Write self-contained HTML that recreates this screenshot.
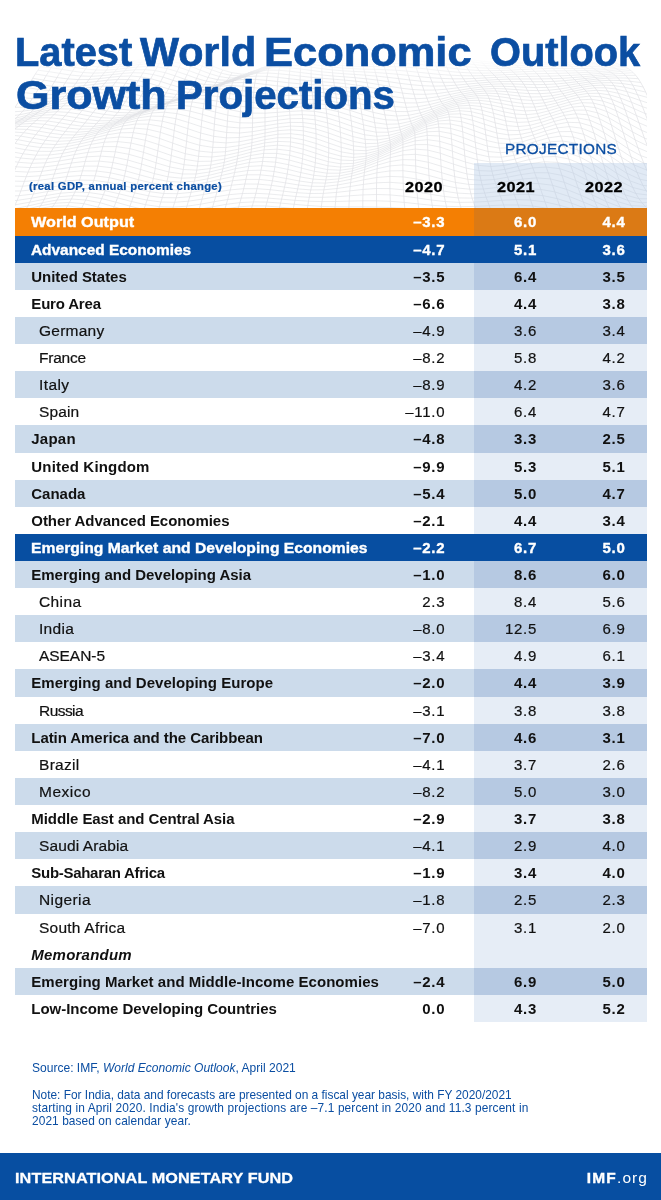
<!DOCTYPE html>
<html lang="en"><head><meta charset="utf-8"><title>Latest World Economic Outlook Growth Projections</title>
<style>
html,body{margin:0;padding:0;background:#fff;}
body{width:661px;height:1200px;position:relative;overflow:hidden;font-family:"Liberation Sans",Arial,sans-serif;}
#mesh{position:absolute;left:15px;top:58px;width:632px;height:151px;}
#proj{position:absolute;left:474.4px;top:163.4px;width:172.6px;height:60px;background:rgba(180,203,230,.4);}
h1{position:absolute;left:0;top:0;margin:0;font-size:40px;line-height:43px;font-weight:bold;color:#0b4ea2;-webkit-text-stroke:.7px #0b4ea2;white-space:nowrap;}
h1 span{position:absolute;display:block;transform-origin:0 0;}
.hd{position:absolute;white-space:nowrap;}
#sub{left:29px;top:180px;font-size:11.3px;font-weight:bold;color:#0b4ea2;letter-spacing:.3px;-webkit-text-stroke:.2px #0b4ea2;}
#pj{left:505px;top:140px;font-size:15.3px;color:#0b4ea2;letter-spacing:.3px;-webkit-text-stroke:.3px #0b4ea2;}
.yr{font-size:15px;font-weight:bold;color:#000;top:178px;letter-spacing:.45px;transform:scaleX(1.085);transform-origin:0 0;-webkit-text-stroke:.3px #000;}
.row{position:absolute;left:15px;width:632px;height:27.7px;line-height:27.1px;font-size:15px;color:#111;white-space:nowrap;}
.row .l{position:absolute;left:16.3px;top:0;}
.row.r .l{left:24px;font-size:15.5px;letter-spacing:.3px;}
.row.r{-webkit-text-stroke:.2px #111;}
.row .n{position:absolute;top:0;text-align:right;width:60px;letter-spacing:.7px;}
.n0{left:370.2px}.n1{left:462px}.n2{left:550.5px}
.row.o,.row.b,.row.B{font-weight:bold;}
.row.o,.row.b{-webkit-text-stroke:.35px #fff;}
.row.i{font-weight:bold;font-style:italic;}
.row.o{background:linear-gradient(90deg,#f47f03 0,#f47f03 459.4px,#db7a15 459.4px);color:#fff;}
.row.b{background:#074ea1;color:#fff;}
.row.s{background:linear-gradient(90deg,#ccdbeb 0,#ccdbeb 459.4px,#b6c9e2 459.4px);}
.row.w{background:linear-gradient(90deg,#fff 0,#fff 459.4px,#e6edf6 459.4px);}
#src{position:absolute;left:32px;top:1062.1px;font-size:12.05px;line-height:13.25px;color:#0b4ea2;white-space:nowrap;}
#note{position:absolute;left:32px;top:1088.8px;font-size:11.9px;line-height:13.25px;color:#0b4ea2;white-space:nowrap;}
#foot{position:absolute;left:0;top:1152.6px;width:661px;height:48px;background:#074ea1;color:#fff;}
#foot .a{position:absolute;left:14.5px;top:0;line-height:50px;font-size:15.5px;font-weight:bold;white-space:nowrap;letter-spacing:.1px;transform:scaleX(1.045);transform-origin:0 0;-webkit-text-stroke:.3px #fff;}
#foot .b{position:absolute;right:13.2px;top:0;line-height:50px;font-size:15.5px;white-space:nowrap;letter-spacing:1px;}
#foot .b b{letter-spacing:1.25px;-webkit-text-stroke:.35px #fff;}
</style></head><body>
<svg id="mesh" width="632" height="151" viewBox="0 0 632 151">
<defs><linearGradient id="fg" x1="0" y1="0" x2="0" y2="1"><stop offset="0" stop-color="#fff" stop-opacity="1"/><stop offset=".14" stop-color="#fff" stop-opacity="0"/></linearGradient></defs>
<path d="M37.8,-0.9 48.1,-2.2 58.4,-2.4 68.6,-1.7 78.9,-0.3 89.2,1.2 99.4,2.4 109.6,2.8 119.8,2.4 129.9,1.3 139.9,-0.1 149.8,-1.2 159.7,-1.5 169.5,-0.6 179.1,1.5 188.8,4.7 198.3,8.4 207.7,12.0 217.1,14.7 226.4,16.1 235.7,15.8 244.9,13.9 254.0,10.6 263.2,6.7 272.3,2.7 281.4,-0.8 290.6,-3.1 299.8,-4.2 309.0,-4.2 318.2,-3.3 327.5,-2.0 336.9,-0.7 346.3,0.0 355.8,0.1 365.4,-0.5 375.1,-1.6 384.9,-2.9 394.8,-4.0 404.7,-4.6 414.7,-4.5 424.8,-3.7 434.9,-2.3 445.1,-0.5 455.3,1.3 465.6,3.0 475.9,4.1 486.2,4.7 496.5,4.7 506.8,4.2 517.0,3.6 527.2,3.1 537.4,2.8 547.5,2.8 557.5,3.2 567.4,3.8 577.3,4.3 587.1,4.5 596.8,4.2 M35.3,-0.2 45.7,-1.1 56.1,-0.9 66.5,0.2 76.9,1.8 87.2,3.3 97.5,4.3 107.8,4.4 118.0,3.7 128.1,2.5 138.1,1.2 148.1,0.4 158.0,0.6 167.8,2.0 177.5,4.6 187.1,8.1 196.6,11.8 206.1,15.1 215.5,17.3 224.9,17.9 234.2,16.8 243.5,14.0 252.7,10.2 262.0,6.0 271.2,2.0 280.5,-1.2 289.7,-3.1 299.1,-3.8 308.4,-3.4 317.8,-2.2 327.3,-0.8 336.9,0.3 346.5,1.0 356.2,0.9 366.0,0.3 375.9,-0.8 385.9,-1.8 395.9,-2.6 406.0,-2.8 416.2,-2.3 426.5,-1.2 436.8,0.4 447.1,2.2 457.5,3.8 467.9,5.2 478.3,6.0 488.7,6.2 499.1,6.0 509.4,5.4 519.7,4.8 530.0,4.3 540.2,4.1 550.3,4.3 560.4,4.7 570.3,5.2 580.2,5.5 590.0,5.4 599.8,4.8 M32.9,1.2 43.4,0.8 53.9,1.5 64.3,2.9 74.8,4.5 85.2,5.9 95.6,6.6 105.8,6.5 116.1,5.6 126.2,4.3 136.3,3.2 146.3,2.8 156.2,3.4 166.0,5.4 175.7,8.4 185.3,12.1 194.9,15.7 204.4,18.5 213.9,20.0 223.3,19.7 232.7,17.7 242.1,14.3 251.4,10.0 260.8,5.7 270.1,1.8 279.5,-1.0 288.9,-2.4 298.4,-2.6 307.9,-1.9 317.5,-0.5 327.2,0.9 336.9,1.9 346.8,2.4 356.7,2.3 366.7,1.6 376.8,0.8 386.9,0.1 397.2,-0.3 407.5,-0.1 417.8,0.8 428.2,2.1 438.7,3.7 449.2,5.3 459.7,6.7 470.2,7.7 480.7,8.1 491.2,8.1 501.6,7.7 512.1,7.1 522.4,6.5 532.7,6.1 542.9,6.0 553.1,6.2 563.2,6.5 573.2,6.9 583.1,7.0 592.9,6.6 602.6,5.7 M30.4,3.2 41.0,3.3 51.6,4.4 62.2,6.0 72.7,7.6 83.1,8.8 93.5,9.2 103.8,8.8 114.1,7.7 124.3,6.5 134.3,5.6 144.3,5.6 154.2,6.8 164.1,9.3 173.8,12.6 183.5,16.2 193.1,19.5 202.7,21.7 212.2,22.3 221.7,21.2 231.2,18.4 240.6,14.4 250.1,9.9 259.6,5.5 269.1,2.0 278.6,-0.3 288.2,-1.2 297.8,-1.0 307.5,0.1 317.3,1.5 327.2,2.9 337.1,3.8 347.1,4.2 357.2,4.0 367.4,3.5 377.7,2.9 388.1,2.6 398.5,2.6 409.0,3.2 419.5,4.3 430.0,5.7 440.6,7.2 451.3,8.6 461.9,9.6 472.5,10.2 483.1,10.3 493.6,10.0 504.2,9.5 514.6,8.9 525.0,8.5 535.4,8.2 545.6,8.1 555.8,8.3 565.9,8.5 575.9,8.7 585.8,8.5 595.7,7.9 605.4,6.8 M27.9,5.7 38.6,6.3 49.3,7.7 59.9,9.4 70.5,11.0 81.0,11.9 91.4,12.0 101.7,11.3 112.0,10.1 122.2,9.0 132.3,8.4 142.3,8.9 152.2,10.6 162.1,13.5 171.9,16.9 181.6,20.4 191.3,23.2 200.9,24.6 210.5,24.3 220.1,22.3 229.6,18.7 239.2,14.3 248.8,9.7 258.4,5.6 268.0,2.6 277.7,0.8 287.5,0.4 297.3,1.0 307.2,2.3 317.2,3.8 327.2,5.1 337.4,5.9 347.6,6.2 357.9,6.1 368.3,5.8 378.7,5.5 389.3,5.6 399.9,6.1 410.5,7.0 421.2,8.2 431.9,9.6 442.6,10.8 453.3,11.8 464.1,12.5 474.7,12.7 485.4,12.5 496.0,12.1 506.6,11.5 517.1,11.0 527.5,10.6 537.9,10.4 548.2,10.4 558.4,10.5 568.5,10.5 578.5,10.4 588.5,10.0 598.3,9.2 608.1,7.9 M25.4,8.7 36.2,9.7 46.9,11.4 57.6,13.1 68.2,14.5 78.7,15.1 89.2,14.8 99.5,13.9 109.8,12.7 120.0,11.7 130.2,11.6 140.2,12.6 150.2,14.7 160.0,17.8 169.9,21.3 179.7,24.4 189.4,26.5 199.1,27.1 208.8,25.8 218.4,23.0 228.1,18.9 237.8,14.2 247.5,9.7 257.3,6.0 267.1,3.5 276.9,2.4 286.9,2.5 296.9,3.5 307.0,4.9 317.1,6.3 327.4,7.5 337.7,8.2 348.1,8.5 358.6,8.5 369.2,8.5 379.9,8.7 390.6,9.1 401.3,9.9 412.1,11.0 422.9,12.3 433.7,13.4 444.6,14.3 455.4,14.9 466.2,15.1 477.0,15.0 487.7,14.6 498.4,14.1 509.0,13.7 519.5,13.3 530.0,13.0 540.4,12.8 550.7,12.8 560.9,12.7 571.0,12.5 581.1,12.1 591.0,11.4 600.9,10.5 610.8,9.2 M22.9,12.2 33.7,13.6 44.5,15.3 55.2,17.0 65.8,18.0 76.4,18.3 86.9,17.7 97.3,16.6 107.6,15.4 117.8,14.7 127.9,15.0 138.0,16.5 148.0,19.1 157.9,22.3 167.8,25.6 177.6,28.1 187.4,29.4 197.2,29.0 207.0,26.9 216.8,23.3 226.6,18.9 236.4,14.2 246.3,10.0 256.2,6.8 266.2,5.0 276.2,4.4 286.3,5.0 296.5,6.2 306.8,7.7 317.2,9.0 327.6,10.0 338.2,10.7 348.8,11.1 359.5,11.3 370.2,11.7 381.0,12.2 391.9,13.1 402.8,14.2 413.7,15.3 424.7,16.4 435.6,17.2 446.5,17.7 457.4,17.8 468.3,17.6 479.2,17.2 489.9,16.7 500.6,16.3 511.3,15.9 521.9,15.7 532.3,15.5 542.7,15.3 553.1,15.1 563.3,14.8 573.4,14.3 583.5,13.7 593.5,12.9 603.4,11.9 613.3,10.7 M20.3,16.0 31.2,17.7 42.0,19.5 52.8,20.9 63.4,21.6 74.0,21.5 84.5,20.6 94.9,19.3 105.2,18.3 115.4,18.0 125.6,18.8 135.7,20.7 145.7,23.5 155.7,26.7 165.7,29.6 175.6,31.5 185.5,31.9 195.4,30.5 205.3,27.6 215.2,23.5 225.1,18.8 235.1,14.3 245.1,10.6 255.2,8.1 265.4,6.9 275.6,6.9 285.9,7.8 296.3,9.2 306.8,10.6 317.3,11.9 328.0,12.8 338.7,13.4 349.5,13.9 360.4,14.5 371.3,15.3 382.3,16.2 393.3,17.4 404.3,18.6 415.4,19.7 426.4,20.4 437.5,20.8 448.5,20.8 459.5,20.5 470.4,19.9 481.3,19.4 492.1,18.9 502.8,18.6 513.5,18.4 524.1,18.2 534.6,18.1 545.0,17.8 555.3,17.4 565.6,16.8 575.8,16.1 585.9,15.3 595.9,14.3 605.9,13.4 615.9,12.5 M17.7,20.3 28.6,22.1 39.4,23.8 50.2,24.9 60.9,25.2 71.5,24.6 82.0,23.5 92.4,22.2 102.7,21.4 113.0,21.5 123.2,22.7 133.4,25.0 143.5,27.9 153.5,30.9 163.5,33.3 173.5,34.4 183.5,33.8 193.5,31.6 203.5,27.9 213.6,23.4 223.7,18.8 233.8,14.7 244.0,11.6 254.3,9.9 264.6,9.3 275.1,9.9 285.6,11.0 296.2,12.4 306.8,13.8 317.6,14.8 328.4,15.7 339.3,16.4 350.3,17.2 361.4,18.1 372.4,19.3 383.6,20.6 394.7,22.0 405.9,23.2 417.0,24.0 428.2,24.3 439.3,24.2 450.4,23.6 461.4,22.9 472.4,22.1 483.3,21.5 494.2,21.1 504.9,21.0 515.6,21.0 526.2,20.9 536.7,20.7 547.2,20.3 557.5,19.6 567.8,18.8 578.0,17.8 588.2,16.8 598.3,15.9 608.3,15.3 618.3,14.7 M15.0,24.9 25.9,26.7 36.8,28.2 47.6,28.9 58.2,28.7 68.9,27.7 79.4,26.4 89.8,25.2 100.2,24.7 110.5,25.2 120.8,26.8 131.0,29.4 141.1,32.3 151.2,34.9 161.3,36.5 171.4,36.7 181.5,35.2 191.7,32.2 201.8,28.0 212.0,23.4 222.3,19.1 232.6,15.5 243.0,13.2 253.4,12.2 264.0,12.3 274.6,13.2 285.3,14.5 296.1,15.8 307.0,17.0 317.9,18.0 329.0,18.8 340.1,19.7 351.2,20.8 362.4,22.1 373.6,23.7 384.9,25.3 396.1,26.7 407.4,27.7 418.6,28.1 429.9,27.9 441.1,27.2 452.2,26.1 463.3,25.1 474.3,24.2 485.3,23.6 496.1,23.5 506.9,23.5 517.6,23.7 528.3,23.7 538.8,23.4 549.3,22.7 559.6,21.7 570.0,20.6 580.2,19.4 590.4,18.4 600.6,17.8 610.7,17.4 620.8,17.4 M12.2,29.6 23.1,31.4 34.0,32.5 44.8,32.7 55.5,32.0 66.2,30.7 76.7,29.3 87.2,28.3 97.6,28.1 107.9,29.1 118.2,31.1 128.5,33.7 138.7,36.4 148.9,38.5 159.2,39.3 169.4,38.6 179.6,36.2 189.9,32.5 200.2,28.0 210.6,23.5 221.0,19.7 231.5,16.9 242.0,15.3 252.7,15.0 263.4,15.7 274.3,16.8 285.2,18.1 296.2,19.3 307.2,20.3 318.4,21.2 329.6,22.1 340.8,23.2 352.1,24.7 363.5,26.5 374.8,28.4 386.2,30.2 397.6,31.5 408.9,32.1 420.3,32.0 431.5,31.2 442.8,29.8 454.0,28.4 465.1,27.1 476.2,26.2 487.1,25.9 498.0,26.0 508.8,26.3 519.6,26.6 530.2,26.5 540.8,26.0 551.3,25.0 561.7,23.7 572.0,22.3 582.3,21.0 592.6,20.2 602.8,19.9 613.0,20.1 623.3,20.7 M9.3,34.6 20.3,36.0 31.2,36.7 42.0,36.4 52.7,35.2 63.4,33.7 73.9,32.2 84.5,31.4 94.9,31.7 105.3,33.1 115.7,35.3 126.0,37.9 136.3,40.3 146.6,41.7 157.0,41.6 167.3,39.9 177.7,36.8 188.1,32.6 198.6,28.1 209.1,24.0 219.7,20.7 230.4,18.8 241.2,18.1 252.1,18.4 263.0,19.4 274.0,20.7 285.1,21.9 296.3,22.9 307.5,23.8 318.9,24.6 330.2,25.6 341.6,27.1 353.1,29.0 364.6,31.2 376.0,33.3 387.5,35.1 399.0,36.2 410.4,36.3 421.8,35.6 433.2,34.0 444.5,32.2 455.7,30.4 466.8,29.0 477.9,28.3 488.9,28.3 499.8,28.7 510.7,29.2 521.4,29.6 532.1,29.4 542.7,28.6 553.2,27.2 563.6,25.6 574.0,24.0 584.4,22.8 594.8,22.3 605.1,22.5 615.4,23.3 625.7,24.5 M6.3,39.5 17.3,40.6 28.2,40.7 39.0,39.9 49.8,38.3 60.5,36.6 71.1,35.2 81.7,34.7 92.2,35.4 102.6,37.1 113.1,39.5 123.5,42.0 133.9,43.8 144.4,44.4 154.8,43.4 165.3,40.9 175.8,37.1 186.4,32.7 197.1,28.4 207.8,24.8 218.6,22.4 229.5,21.3 240.5,21.4 251.5,22.3 262.6,23.5 273.8,24.8 285.1,25.8 296.5,26.6 307.9,27.3 319.4,28.1 330.9,29.4 342.5,31.3 354.1,33.6 365.7,36.1 377.2,38.4 388.8,40.1 400.4,40.7 411.9,40.2 423.3,38.7 434.7,36.5 446.1,34.2 457.3,32.2 468.5,31.0 479.6,30.5 490.6,30.9 501.5,31.6 512.4,32.4 523.1,32.6 533.8,32.2 544.5,31.1 555.0,29.3 565.5,27.4 576.0,25.7 586.5,24.8 596.9,24.7 607.3,25.5 617.7,27.1 628.2,29.0 M3.2,44.5 14.2,45.1 25.2,44.6 36.0,43.2 46.8,41.2 57.5,39.4 68.2,38.2 78.8,38.1 89.4,39.2 99.9,41.2 110.5,43.6 121.0,45.7 131.5,46.9 142.1,46.6 152.7,44.8 163.4,41.5 174.1,37.3 184.8,32.9 195.7,29.0 206.6,26.2 217.6,24.7 228.6,24.5 239.8,25.2 251.0,26.5 262.4,27.9 273.8,29.0 285.3,29.8 296.8,30.3 308.4,30.9 320.0,31.9 331.7,33.5 343.4,35.8 355.1,38.5 366.8,41.3 378.4,43.6 390.1,44.9 401.7,44.9 413.3,43.6 424.8,41.4 436.2,38.6 447.6,36.0 458.8,34.0 470.0,33.0 481.2,33.0 492.2,33.7 503.1,34.8 514.0,35.6 524.8,35.7 535.5,35.0 546.2,33.4 556.8,31.3 567.4,29.2 577.9,27.6 588.5,27.1 599.0,27.6 609.6,29.2 620.1,31.6 630.7,34.1 M0.0,49.3 11.1,49.3 22.0,48.1 32.9,46.2 43.7,44.0 54.5,42.2 65.2,41.3 75.9,41.6 86.6,43.0 97.2,45.2 107.8,47.5 118.5,49.1 129.2,49.5 139.9,48.4 150.6,45.7 161.5,41.9 172.3,37.5 183.3,33.4 194.3,30.1 205.4,28.2 216.6,27.6 227.9,28.3 239.2,29.6 250.7,31.1 262.2,32.4 273.8,33.2 285.4,33.7 297.1,34.0 308.9,34.6 320.7,35.8 332.5,37.8 344.3,40.6 356.1,43.7 367.8,46.6 379.6,48.6 391.3,49.4 403.0,48.7 414.6,46.6 426.1,43.6 437.6,40.4 449.0,37.6 460.3,35.8 471.5,35.2 482.6,35.6 493.7,36.8 504.7,38.1 515.6,39.0 526.4,38.8 537.2,37.7 547.9,35.6 558.6,33.2 569.2,31.1 579.9,29.8 590.5,29.8 601.2,31.1 611.8,33.6 622.5,36.7 633.3,39.7 M-3.3,53.9 7.8,53.2 18.8,51.5 29.7,49.1 40.6,46.7 51.4,45.1 62.2,44.5 73.0,45.2 83.7,46.9 94.5,49.1 105.2,51.1 116.0,52.2 126.8,51.8 137.7,49.8 148.6,46.4 159.6,42.2 170.7,37.9 181.8,34.2 193.1,31.8 204.4,30.9 215.7,31.3 227.2,32.6 238.8,34.4 250.4,35.9 262.1,37.0 273.9,37.5 285.7,37.6 297.5,37.7 309.4,38.4 321.3,40.0 333.2,42.4 345.1,45.6 357.0,49.0 368.9,51.8 380.7,53.5 392.5,53.6 404.2,52.0 415.8,49.1 427.4,45.5 438.9,42.0 450.3,39.2 461.6,37.7 472.9,37.6 484.0,38.6 495.1,40.2 506.1,41.7 517.0,42.4 527.9,41.9 538.7,40.2 549.5,37.7 560.3,35.1 571.0,33.1 581.8,32.3 592.5,33.0 603.3,35.3 614.1,38.6 625.0,42.4 635.9,45.9 M-6.6,58.2 4.5,56.8 15.5,54.5 26.5,51.8 37.4,49.4 48.3,47.9 59.2,47.7 70.0,48.8 80.9,50.7 91.8,52.9 102.7,54.5 113.6,54.8 124.6,53.6 135.6,50.9 146.7,47.0 157.9,42.6 169.1,38.6 180.5,35.7 191.9,34.2 203.4,34.3 215.0,35.6 226.7,37.5 238.4,39.4 250.2,40.8 262.1,41.5 274.0,41.6 286.0,41.4 298.0,41.5 310.0,42.4 322.0,44.3 334.0,47.3 346.0,50.8 358.0,54.3 369.9,56.9 381.8,58.0 393.6,57.3 405.3,54.9 417.0,51.2 428.6,47.1 440.1,43.4 451.5,40.8 462.9,39.8 474.1,40.4 485.3,42.0 496.4,43.9 507.4,45.4 518.4,45.8 529.4,44.8 540.3,42.6 551.1,39.8 562.0,37.1 572.8,35.4 583.7,35.3 594.6,36.9 605.5,40.1 616.5,44.3 627.5,48.7 638.6,52.4 M-10.1,62.2 1.1,60.1 12.2,57.2 23.2,54.3 34.2,52.0 45.2,50.8 56.1,51.0 67.1,52.4 78.1,54.5 89.1,56.4 100.1,57.5 111.2,57.1 122.4,55.1 133.6,51.7 144.9,47.5 156.2,43.3 167.7,39.8 179.2,37.7 190.8,37.3 202.5,38.4 214.3,40.4 226.2,42.7 238.1,44.6 250.1,45.7 262.1,46.0 274.2,45.6 286.3,45.2 298.4,45.4 310.5,46.5 322.7,48.9 334.8,52.3 346.8,56.2 358.9,59.6 370.9,61.8 382.8,62.2 394.6,60.6 406.4,57.2 418.1,52.9 429.7,48.4 441.2,44.8 452.7,42.6 464.0,42.3 475.3,43.5 486.5,45.6 497.6,47.8 508.7,49.1 519.8,49.1 530.8,47.6 541.8,45.0 552.7,41.9 563.7,39.3 574.7,38.1 585.7,38.8 596.7,41.4 607.8,45.7 618.9,50.6 630.1,55.5 641.4,59.2 M-13.6,65.9 -2.4,63.1 8.7,59.8 19.9,56.7 30.9,54.5 42.0,53.7 53.1,54.4 64.2,56.0 75.3,58.1 86.4,59.7 97.6,60.2 108.9,59.1 120.2,56.4 131.6,52.5 143.1,48.2 154.7,44.3 166.3,41.6 178.1,40.5 189.9,41.2 201.8,43.1 213.7,45.7 225.8,48.2 237.9,49.9 250.0,50.6 262.2,50.3 274.4,49.6 286.6,49.0 298.9,49.3 311.1,50.9 323.3,53.7 335.5,57.5 347.6,61.5 359.7,64.7 371.7,66.3 383.7,65.9 395.6,63.3 407.4,59.1 419.1,54.2 430.7,49.6 442.2,46.3 453.7,44.8 465.1,45.2 476.4,47.1 487.6,49.6 498.8,51.8 510.0,52.9 521.1,52.4 532.2,50.3 543.2,47.3 554.3,44.1 565.4,41.8 576.5,41.3 587.7,43.0 598.9,46.7 610.1,51.9 621.4,57.5 632.8,62.5 644.3,66.1 M-17.2,69.1 -5.9,65.8 5.3,62.1 16.5,59.0 27.7,57.1 38.9,56.7 50.1,57.8 61.3,59.6 72.5,61.6 83.9,62.8 95.2,62.7 106.7,60.8 118.2,57.5 129.8,53.4 141.5,49.2 153.2,45.8 165.1,44.0 177.0,44.0 189.0,45.7 201.1,48.4 213.2,51.3 225.4,53.8 237.7,55.1 250.0,55.2 262.3,54.4 274.6,53.4 287.0,52.8 299.3,53.3 311.6,55.4 323.9,58.7 336.2,62.8 348.4,66.8 360.5,69.6 372.5,70.5 384.5,69.1 396.4,65.6 408.2,60.7 419.9,55.4 431.6,50.9 443.2,48.0 454.6,47.3 466.1,48.5 477.4,51.0 488.7,53.8 499.9,56.0 511.2,56.7 522.4,55.6 533.5,52.9 544.7,49.5 555.9,46.5 567.1,44.7 578.4,45.1 589.7,47.9 601.1,52.7 612.5,58.8 624.0,64.8 635.6,69.8 647.3,72.9 M-20.8,72.1 -9.5,68.2 1.8,64.3 13.1,61.3 24.4,59.8 35.7,59.8 47.1,61.2 58.4,63.2 69.9,65.0 81.3,65.7 92.9,64.9 104.5,62.4 116.2,58.6 128.0,54.4 139.9,50.5 151.8,48.0 163.9,47.2 176.0,48.3 188.2,50.8 200.5,54.1 212.8,57.2 225.1,59.3 237.6,60.2 250.0,59.7 262.4,58.4 274.9,57.1 287.3,56.6 299.8,57.5 312.1,60.0 324.5,63.8 336.8,68.2 349.0,71.9 361.2,74.2 373.2,74.2 385.2,71.8 397.2,67.4 409.0,61.9 420.7,56.5 432.4,52.3 444.0,50.1 455.5,50.2 467.0,52.3 478.4,55.3 489.7,58.3 501.0,60.2 512.3,60.4 523.6,58.6 534.9,55.5 546.2,51.9 557.6,49.1 568.9,48.1 580.3,49.6 591.8,53.5 603.4,59.4 615.0,66.1 626.7,72.4 638.5,77.1 650.3,79.4 M-24.5,74.7 -13.1,70.3 -1.7,66.4 9.7,63.6 21.2,62.5 32.6,63.0 44.1,64.7 55.6,66.7 67.2,68.2 78.9,68.4 90.6,66.9 102.5,63.9 114.4,59.9 126.3,55.7 138.4,52.4 150.6,50.8 162.8,51.0 175.1,53.1 187.5,56.4 199.9,60.1 212.4,63.1 224.9,64.8 237.5,65.0 250.0,63.9 262.6,62.2 275.1,60.7 287.7,60.5 300.1,61.8 312.6,64.9 325.0,69.0 337.3,73.4 349.6,76.8 361.8,78.3 373.9,77.4 385.9,74.0 397.8,68.8 409.7,63.0 421.4,57.7 433.1,54.0 444.7,52.7 456.3,53.7 467.8,56.5 479.3,59.9 490.7,62.9 502.1,64.4 513.5,63.9 524.9,61.6 536.3,58.0 547.8,54.5 559.2,52.2 570.8,52.1 582.4,54.8 594.0,59.9 605.7,66.7 617.5,73.9 629.4,80.1 641.4,84.2 653.5,85.6 M-28.1,76.9 -16.6,72.3 -5.1,68.4 6.4,66.0 18.0,65.4 29.6,66.3 41.2,68.2 52.9,70.1 64.7,71.2 76.5,70.9 88.5,68.8 100.5,65.4 112.6,61.3 124.8,57.5 137.0,54.9 149.4,54.2 161.8,55.6 174.3,58.6 186.8,62.4 199.4,66.2 212.1,68.9 224.7,70.0 237.4,69.5 250.0,67.8 262.7,65.8 275.3,64.4 287.9,64.5 300.5,66.3 313.0,69.8 325.4,74.3 337.8,78.5 350.1,81.4 362.3,82.0 374.4,80.1 386.4,75.8 398.4,70.0 410.2,64.0 422.0,59.1 433.8,56.2 445.4,55.8 457.0,57.7 468.6,61.1 480.1,64.8 491.6,67.6 503.1,68.6 514.7,67.4 526.2,64.4 537.7,60.7 549.3,57.4 561.0,55.8 572.7,56.8 584.4,60.7 596.3,66.9 608.2,74.5 620.2,81.9 632.3,87.7 644.5,91.0 656.7,91.2 M-31.8,79.0 -20.2,74.2 -8.6,70.5 3.1,68.5 14.8,68.3 26.6,69.6 38.4,71.7 50.3,73.5 62.2,74.2 74.3,73.3 86.4,70.7 98.6,67.0 110.9,63.0 123.3,59.8 135.8,58.1 148.3,58.4 160.9,60.7 173.5,64.5 186.2,68.7 199.0,72.3 211.7,74.5 224.5,75.0 237.3,73.7 250.1,71.5 262.8,69.3 275.5,68.1 288.2,68.6 300.8,71.0 313.3,74.9 325.8,79.4 338.2,83.4 350.5,85.6 362.7,85.3 374.8,82.3 386.9,77.2 398.8,71.1 410.7,65.2 422.6,60.8 434.3,58.8 446.0,59.5 457.7,62.3 469.4,66.2 481.0,69.9 492.6,72.3 504.2,72.6 515.8,70.7 527.5,67.3 539.2,63.4 551.0,60.6 562.8,59.9 574.7,62.2 586.6,67.3 598.6,74.5 610.8,82.5 623.0,89.8 635.3,95.0 647.6,97.2 660.1,96.2 M-35.5,80.9 -23.8,76.1 -12.0,72.7 -0.2,71.1 11.7,71.4 23.6,73.1 35.6,75.2 47.7,76.7 59.9,77.0 72.1,75.6 84.4,72.7 96.8,68.9 109.3,65.2 121.9,62.6 134.6,61.8 147.3,63.2 160.0,66.4 172.8,70.7 185.7,75.0 198.6,78.3 211.4,79.9 224.3,79.5 237.2,77.6 250.0,75.0 262.9,72.7 275.6,71.8 288.3,72.8 301.0,75.7 313.5,80.0 326.0,84.5 338.4,87.9 350.8,89.3 363.0,88.1 375.1,84.2 387.2,78.5 399.2,72.2 411.2,66.6 423.0,63.0 434.8,62.1 446.6,63.7 458.4,67.2 470.1,71.5 481.8,75.0 493.5,76.9 505.3,76.4 517.1,73.9 528.9,70.1 540.7,66.5 552.7,64.3 564.7,64.7 576.7,68.2 588.9,74.5 601.1,82.5 613.4,90.8 625.8,97.7 638.3,101.9 650.9,102.8 663.5,100.4 M-39.2,82.7 -27.3,78.0 -15.4,75.0 -3.4,73.9 8.7,74.7 20.8,76.6 33.0,78.7 45.2,80.0 57.6,79.8 70.0,78.0 82.6,74.8 95.2,71.1 107.9,67.9 120.6,66.0 133.4,66.2 146.3,68.5 159.2,72.5 172.2,77.1 185.2,81.3 198.2,84.0 211.1,84.9 224.1,83.8 237.1,81.3 250.0,78.4 262.9,76.2 275.7,75.7 288.4,77.2 301.1,80.6 313.7,85.0 326.2,89.3 338.6,92.2 351.0,92.7 363.2,90.4 375.4,85.8 387.5,79.7 399.5,73.4 411.5,68.5 423.4,65.8 435.3,65.9 447.2,68.5 459.0,72.6 470.8,76.9 482.7,80.2 494.5,81.3 506.4,80.1 518.3,77.0 530.3,73.1 542.3,69.9 554.4,68.6 566.6,70.2 578.9,75.0 591.2,82.2 603.7,90.8 616.2,98.9 628.8,105.1 641.5,108.2 654.2,107.7 667.0,103.9 M-42.8,84.4 -30.8,80.0 -18.7,77.4 -6.5,76.9 5.7,78.1 18.0,80.2 30.4,82.3 42.9,83.3 55.4,82.7 68.1,80.5 80.8,77.2 93.6,73.7 106.4,71.1 119.4,70.1 132.4,71.2 145.4,74.3 158.5,78.7 171.6,83.4 184.7,87.3 197.8,89.4 210.8,89.5 223.9,87.6 236.9,84.7 249.9,81.7 262.8,79.7 275.6,79.7 288.4,81.8 301.1,85.5 313.7,90.0 326.3,93.9 338.7,96.0 351.1,95.6 363.3,92.5 375.5,87.2 387.7,80.9 399.8,75.0 411.8,70.8 423.8,69.2 435.7,70.4 447.7,73.8 459.6,78.3 471.6,82.5 483.5,85.2 495.5,85.6 507.5,83.7 519.6,80.2 531.8,76.4 544.0,73.7 556.3,73.5 568.7,76.3 581.1,82.3 593.7,90.4 606.3,99.1 619.0,106.9 631.8,112.1 644.7,113.8 657.6,111.8 670.6,106.7 M-46.4,86.2 -34.2,82.1 -21.9,80.1 -9.6,80.1 2.8,81.7 15.3,84.0 27.9,85.9 40.6,86.6 53.3,85.6 66.2,83.2 79.1,79.9 92.1,76.8 105.1,74.8 118.2,74.6 131.4,76.6 144.5,80.4 157.7,85.1 170.9,89.7 184.1,93.1 197.3,94.4 210.5,93.7 223.6,91.2 236.7,87.9 249.7,84.9 262.7,83.4 275.5,83.9 288.3,86.4 301.0,90.4 313.7,94.8 326.2,98.2 338.7,99.5 351.1,98.2 363.4,94.3 375.6,88.6 387.8,82.3 399.9,77.0 412.0,73.8 424.1,73.3 436.1,75.5 448.2,79.5 460.2,84.2 472.3,88.1 484.4,90.1 496.6,89.7 508.8,87.2 521.0,83.4 533.4,79.9 545.8,78.1 558.3,79.0 570.8,83.1 583.5,90.1 596.2,98.7 609.1,107.4 622.0,114.4 634.9,118.3 648.0,118.5 661.1,115.0 674.2,108.8 M-49.9,88.1 -37.5,84.4 -25.1,82.9 -12.6,83.5 0.1,85.4 12.8,87.8 25.5,89.5 38.4,89.9 51.4,88.7 64.4,86.1 77.5,83.0 90.6,80.3 103.8,79.0 117.1,79.6 130.4,82.3 143.7,86.6 157.0,91.4 170.3,95.7 183.6,98.4 196.9,99.0 210.1,97.5 223.3,94.5 236.4,91.1 249.5,88.3 262.4,87.2 275.3,88.2 288.2,91.2 300.9,95.3 313.5,99.4 326.1,102.1 338.6,102.6 351.0,100.4 363.3,95.9 375.6,90.1 387.9,84.2 400.1,79.6 412.2,77.4 424.4,78.0 436.5,81.0 448.7,85.5 460.9,90.1 473.1,93.5 485.4,94.7 497.7,93.6 510.1,90.6 522.5,86.9 535.0,83.8 547.6,83.0 560.3,85.1 573.1,90.4 585.9,98.2 598.9,107.0 611.9,115.3 625.0,121.3 638.1,123.8 651.3,122.4 664.6,117.5 677.9,110.2 M-53.4,90.1 -40.8,86.9 -28.2,86.0 -15.4,87.1 -2.6,89.3 10.3,91.7 23.3,93.3 36.3,93.4 49.5,91.9 62.7,89.3 75.9,86.4 89.2,84.2 102.6,83.6 116.0,85.0 129.4,88.3 142.8,92.8 156.3,97.5 169.7,101.4 183.0,103.4 196.4,103.2 209.7,101.1 222.9,97.7 236.0,94.2 249.1,91.8 262.1,91.2 275.0,92.7 287.9,96.0 300.6,100.1 313.3,103.7 325.9,105.8 338.4,105.4 350.9,102.5 363.2,97.6 375.6,91.8 387.9,86.4 400.2,82.8 412.4,81.7 424.7,83.3 437.0,87.0 449.3,91.7 461.6,96.0 473.9,98.8 486.4,99.2 498.9,97.4 511.4,94.1 524.1,90.5 536.8,88.2 549.6,88.4 562.5,91.8 575.4,98.1 588.5,106.4 601.6,115.2 614.8,122.8 628.1,127.5 641.4,128.4 654.7,125.4 668.1,119.3 681.5,111.2 M-56.7,92.3 -44.0,89.7 -31.1,89.4 -18.2,90.9 -5.2,93.4 7.9,95.8 21.1,97.2 34.3,97.0 47.6,95.4 61.0,92.8 74.4,90.2 87.9,88.6 101.4,88.6 114.9,90.6 128.5,94.3 142.0,98.9 155.5,103.4 169.0,106.7 182.4,108.0 195.8,107.1 209.2,104.4 222.4,100.8 235.6,97.5 248.7,95.4 261.7,95.4 274.7,97.3 287.5,100.8 300.3,104.7 313.0,107.8 325.6,109.1 338.1,108.0 350.6,104.6 363.1,99.5 375.5,93.9 387.9,89.3 400.2,86.6 412.6,86.6 425.0,89.1 437.4,93.2 449.8,97.9 462.3,101.8 474.9,103.8 487.5,103.5 500.1,101.1 512.9,97.7 525.7,94.5 538.6,93.1 551.6,94.4 564.7,98.9 577.9,106.0 591.1,114.6 604.4,123.0 617.8,129.5 631.2,132.8 644.7,132.1 658.2,127.7 671.7,120.5 685.2,111.9 M-60.0,94.8 -47.1,92.8 -34.0,93.0 -20.9,94.9 -7.7,97.6 5.6,100.0 19.0,101.2 32.4,100.8 45.9,99.1 59.4,96.6 73.0,94.4 86.6,93.2 100.3,93.8 113.9,96.3 127.5,100.2 141.1,104.8 154.7,108.9 168.3,111.5 181.8,112.1 195.2,110.6 208.6,107.6 221.8,104.0 235.1,100.9 248.2,99.3 261.2,99.7 274.2,102.0 287.0,105.5 299.8,109.1 312.6,111.6 325.2,112.2 337.8,110.5 350.4,106.6 362.9,101.6 375.4,96.5 387.9,92.7 400.3,91.1 412.8,92.1 425.3,95.2 437.9,99.7 450.5,104.1 463.1,107.3 475.8,108.5 488.6,107.5 501.5,104.8 514.4,101.5 527.5,98.9 540.6,98.5 553.8,101.0 567.0,106.4 580.4,114.1 593.8,122.6 607.3,130.3 620.8,135.5 634.4,137.2 648.0,135.0 661.7,129.2 675.3,121.2 688.9,112.4 M-63.2,97.5 -50.0,96.1 -36.8,96.9 -23.5,99.2 -10.1,102.0 3.4,104.3 16.9,105.3 30.5,104.8 44.2,103.0 57.9,100.7 71.6,98.8 85.4,98.1 99.1,99.1 112.8,102.0 126.6,106.0 140.3,110.4 153.9,114.0 167.5,116.0 181.0,116.0 194.5,114.0 207.9,110.8 221.2,107.3 234.4,104.5 247.6,103.4 260.6,104.2 273.6,106.7 286.5,110.1 299.3,113.3 312.1,115.2 324.8,115.2 337.4,112.9 350.1,108.9 362.7,104.1 375.2,99.7 387.8,96.9 400.4,96.3 413.0,98.0 425.7,101.7 438.4,106.1 451.2,110.1 464.0,112.6 476.9,113.1 489.9,111.4 502.9,108.5 516.1,105.5 529.3,103.8 542.6,104.4 556.0,107.9 569.5,114.1 583.0,122.0 596.6,130.2 610.2,136.9 623.9,140.7 637.7,140.8 651.4,137.0 665.1,130.2 678.9,121.7 692.6,113.0 M-66.3,100.5 -52.9,99.6 -39.5,100.9 -26.0,103.6 -12.4,106.5 1.3,108.8 15.0,109.6 28.7,109.0 42.5,107.2 56.4,105.0 70.2,103.4 84.1,103.1 97.9,104.5 111.8,107.5 125.6,111.5 139.3,115.6 153.0,118.8 166.6,120.2 180.2,119.7 193.7,117.4 207.1,114.1 220.4,110.7 233.7,108.4 246.9,107.7 259.9,108.8 272.9,111.4 285.9,114.6 298.7,117.3 311.5,118.6 324.3,118.0 337.0,115.4 349.7,111.5 362.4,107.1 375.1,103.5 387.8,101.6 400.5,101.9 413.3,104.3 426.1,108.2 439.0,112.4 451.9,115.9 465.0,117.6 478.0,117.3 491.2,115.3 504.5,112.4 517.8,109.9 531.2,109.1 544.7,110.7 558.3,115.1 572.0,121.9 585.7,129.7 599.4,137.2 613.2,142.6 627.1,144.9 640.9,143.4 654.8,138.4 668.6,130.8 682.4,122.1 696.2,113.7 M-69.3,103.7 -55.7,103.5 -42.1,105.3 -28.4,108.2 -14.6,111.2 -0.8,113.4 13.1,114.1 27.0,113.3 40.9,111.5 54.9,109.5 68.9,108.1 82.8,108.1 96.7,109.8 110.6,112.9 124.5,116.8 138.3,120.5 152.0,123.2 165.7,124.2 179.3,123.2 192.8,120.8 206.3,117.5 219.6,114.5 232.9,112.5 246.0,112.2 259.1,113.5 272.2,116.0 285.1,118.9 298.1,121.1 310.9,121.9 323.8,120.9 336.6,118.1 349.4,114.4 362.2,110.7 375.0,107.9 387.8,106.9 400.7,108.0 413.6,110.9 426.6,114.7 439.7,118.6 452.8,121.3 466.0,122.3 479.3,121.5 492.7,119.2 506.1,116.6 519.6,114.7 533.3,114.8 547.0,117.4 560.7,122.5 574.5,129.5 588.4,137.0 602.3,143.5 616.3,147.6 630.2,148.3 644.2,145.4 658.1,139.4 672.1,131.3 686.0,122.6 699.8,114.7 M-72.2,107.2 -58.4,107.5 -44.6,109.8 -30.7,113.0 -16.8,116.1 -2.8,118.1 11.2,118.7 25.3,117.8 39.3,116.0 53.4,114.0 67.5,112.8 81.5,113.0 95.5,114.8 109.5,118.0 123.4,121.7 137.2,125.1 151.0,127.4 164.7,128.0 178.3,126.8 191.9,124.3 205.3,121.2 218.7,118.5 231.9,116.8 245.2,116.8 258.3,118.2 271.4,120.5 284.4,123.0 297.3,124.8 310.3,125.1 323.2,123.8 336.1,121.2 349.0,117.9 361.9,114.8 374.9,112.9 387.9,112.7 400.9,114.4 414.0,117.5 427.2,121.1 440.4,124.4 453.7,126.4 467.1,126.8 480.6,125.5 494.2,123.2 507.8,121.0 521.6,119.9 535.4,120.9 549.2,124.3 563.2,129.9 577.2,136.8 591.2,143.6 605.2,149.0 619.3,151.6 633.4,150.9 647.4,146.8 661.5,140.0 675.5,131.7 689.5,123.3 703.4,116.2 M-75.0,111.0 -61.0,111.8 -47.1,114.5 -33.0,117.9 -18.9,121.1 -4.8,123.0 9.4,123.4 23.6,122.4 37.7,120.5 51.9,118.6 66.1,117.5 80.2,117.8 94.2,119.7 108.3,122.8 122.2,126.3 136.1,129.4 149.9,131.4 163.6,131.8 177.2,130.5 190.8,128.0 204.2,125.2 217.6,122.7 230.9,121.4 244.2,121.4 257.4,122.8 270.5,124.9 283.6,127.0 296.6,128.3 309.6,128.4 322.6,127.0 335.7,124.6 348.7,121.8 361.8,119.5 374.9,118.4 388.0,118.9 401.2,120.9 414.5,124.0 427.8,127.3 441.3,129.9 454.8,131.2 468.4,131.0 482.1,129.5 495.8,127.4 509.7,125.8 523.6,125.5 537.6,127.3 551.6,131.4 565.7,137.1 579.8,143.6 594.0,149.6 608.2,153.6 622.4,154.8 636.5,152.8 650.7,147.7 664.8,140.5 678.9,132.3 692.9,124.5 706.8,118.3 M-77.7,114.9 -63.6,116.4 -49.4,119.4 -35.2,123.0 -21.0,126.2 -6.7,128.0 7.6,128.2 21.9,127.0 36.1,124.9 50.4,123.0 64.6,122.0 78.8,122.4 92.9,124.3 107.0,127.3 120.9,130.7 134.8,133.7 148.7,135.5 162.4,135.7 176.0,134.4 189.6,132.1 203.1,129.4 216.5,127.2 229.9,126.0 243.1,126.1 256.4,127.3 269.5,129.1 282.7,130.9 295.8,131.9 308.9,131.8 322.1,130.5 335.2,128.5 348.4,126.4 361.6,124.8 374.9,124.3 388.2,125.3 401.6,127.5 415.0,130.3 428.6,133.1 442.2,135.1 455.9,135.8 469.7,135.1 483.6,133.6 497.5,131.9 511.6,130.9 525.7,131.4 539.8,133.9 554.0,138.4 568.3,144.0 582.5,149.9 596.8,154.8 611.1,157.5 625.4,157.3 639.6,154.2 653.9,148.4 668.0,141.0 682.2,133.3 696.2,126.2 710.2,120.9 M-80.3,119.1 -66.1,121.1 -51.8,124.5 -37.4,128.3 -23.0,131.4 -8.6,133.0 5.8,133.0 20.2,131.5 34.5,129.3 48.8,127.3 63.1,126.3 77.3,126.7 91.5,128.6 105.6,131.6 119.6,134.9 133.5,137.8 147.3,139.6 161.1,139.8 174.8,138.7 188.4,136.5 201.9,134.0 215.3,131.9 228.7,130.7 242.0,130.7 255.3,131.7 268.6,133.2 281.8,134.7 295.0,135.5 308.3,135.4 321.5,134.4 334.8,132.9 348.1,131.4 361.5,130.5 374.9,130.6 388.4,131.8 402.0,133.9 415.7,136.3 429.4,138.5 443.2,139.9 457.1,140.1 471.1,139.2 485.2,137.8 499.4,136.6 513.6,136.3 527.8,137.6 542.1,140.6 556.5,145.2 570.9,150.5 585.3,155.5 599.7,159.2 614.0,160.6 628.4,159.2 642.7,155.2 657.0,149.1 671.2,141.9 685.4,134.7 699.5,128.6 713.5,124.1 M-82.9,123.5 -68.5,125.9 -54.0,129.7 -39.5,133.6 -25.0,136.7 -10.5,138.1 4.0,137.7 18.4,136.0 32.8,133.5 47.2,131.4 61.5,130.3 75.8,130.7 90.0,132.7 104.1,135.8 118.1,139.2 132.1,142.1 145.9,144.0 159.7,144.3 173.4,143.2 187.0,141.2 200.6,138.8 214.0,136.7 227.5,135.5 240.9,135.3 254.2,136.0 267.6,137.2 280.9,138.5 294.3,139.3 307.6,139.3 321.0,138.8 334.5,137.8 347.9,136.9 361.5,136.5 375.1,136.9 388.8,138.2 402.6,140.0 416.4,142.0 430.3,143.6 444.4,144.4 458.5,144.2 472.7,143.4 486.9,142.3 501.2,141.6 515.6,142.1 530.0,143.9 544.5,147.2 559.0,151.6 573.5,156.3 588.0,160.4 602.5,162.8 616.9,163.0 631.4,160.7 645.8,156.1 660.1,150.0 674.4,143.2 688.6,136.8 702.7,131.6 716.7,128.0 M-85.5,128.0 -70.9,131.0 -56.3,135.1 -41.7,139.1 -27.1,142.0 -12.5,143.1 2.1,142.4 16.6,140.2 31.1,137.5 45.5,135.2 59.9,134.1 74.2,134.6 88.4,136.7 102.5,139.9 116.6,143.5 130.5,146.7 144.4,148.7 158.2,149.1 171.9,148.2 185.6,146.2 199.2,143.7 212.7,141.5 226.2,140.1 239.7,139.7 253.1,140.1 266.6,141.2 280.0,142.3 293.5,143.2 307.0,143.6 320.6,143.5 334.2,143.1 347.8,142.8 361.5,142.8 375.3,143.3 389.2,144.4 403.2,145.9 417.2,147.3 431.4,148.3 445.6,148.7 459.9,148.4 474.3,147.7 488.7,147.0 503.2,147.0 517.7,148.0 532.3,150.3 546.9,153.6 561.5,157.7 576.1,161.6 590.7,164.5 605.3,165.8 619.8,165.0 634.3,162.0 648.7,157.2 663.1,151.3 677.4,145.1 691.6,139.6 705.8,135.2 719.8,132.3 M-87.9,132.7 -73.2,136.2 -58.5,140.5 -43.8,144.6 -29.1,147.2 -14.4,148.0 0.2,146.8 14.8,144.2 29.3,141.2 43.8,138.7 58.2,137.6 72.5,138.3 86.7,140.6 100.9,144.2 114.9,148.1 128.9,151.6 142.8,153.8 156.6,154.4 170.4,153.4 184.1,151.4 197.7,148.8 211.3,146.3 224.9,144.6 238.5,143.9 252.0,144.1 265.6,145.1 279.2,146.3 292.8,147.5 306.4,148.4 320.1,148.8 333.9,148.9 347.8,148.9 361.7,149.1 375.7,149.6 389.8,150.4 403.9,151.3 418.2,152.2 432.5,152.7 446.9,152.8 461.4,152.6 475.9,152.2 490.5,152.1 505.2,152.6 519.9,154.1 534.6,156.5 549.3,159.7 564.0,163.1 578.7,166.1 593.4,168.0 608.0,168.2 622.6,166.6 637.2,163.2 651.6,158.5 666.0,153.1 680.4,147.7 694.6,143.0 708.8,139.4 722.8,137.0 M-90.4,137.6 -75.6,141.5 -60.8,146.1 -46.0,150.1 -31.2,152.4 -16.4,152.7 -1.7,151.0 12.9,148.0 27.5,144.7 42.0,142.0 56.4,141.0 70.7,142.0 85.0,144.7 99.1,148.8 113.2,153.1 127.2,156.9 141.1,159.3 155.0,160.0 168.8,159.0 182.5,156.7 196.2,153.8 209.9,151.0 223.6,148.9 237.3,147.9 250.9,148.0 264.6,149.1 278.3,150.6 292.1,152.2 305.9,153.5 319.8,154.4 333.8,155.0 347.8,155.2 361.9,155.4 376.1,155.6 390.4,155.9 404.7,156.3 419.2,156.7 433.7,156.9 448.3,157.0 463.0,156.9 477.7,157.0 492.4,157.4 507.2,158.5 522.0,160.2 536.9,162.6 551.7,165.3 566.5,168.0 581.3,170.0 596.0,170.8 610.7,170.2 625.4,168.1 639.9,164.6 654.5,160.3 668.9,155.5 683.2,150.9 697.5,147.0 711.7,144.1 725.7,142.1 M-92.9,142.6 -77.9,147.0 -63.0,151.7 -48.1,155.5 -33.3,157.5 -18.5,157.2 -3.8,155.0 10.9,151.4 25.5,147.8 40.0,145.2 54.5,144.4 68.8,145.7 83.1,149.1 97.3,153.7 111.4,158.6 125.4,162.8 139.4,165.4 153.3,166.0 167.1,164.7 180.9,162.0 194.7,158.6 208.5,155.4 222.3,153.0 236.1,151.8 249.9,152.0 263.7,153.2 277.6,155.1 291.5,157.2 305.5,159.1 319.6,160.4 333.7,161.2 347.9,161.5 362.2,161.4 376.6,161.3 391.1,161.1 405.7,161.0 420.3,161.0 435.0,161.0 449.8,161.2 464.6,161.5 479.5,162.1 494.4,163.0 509.3,164.4 524.2,166.2 539.2,168.3 554.1,170.4 569.0,172.2 583.8,173.2 598.6,173.2 613.4,172.1 628.0,169.7 642.7,166.5 657.2,162.6 671.6,158.6 686.0,154.9 700.3,151.7 714.5,149.1 728.6,147.4 M-95.3,147.8 -80.3,152.5 -65.3,157.3 -50.4,160.9 -35.5,162.4 -20.6,161.5 -5.8,158.6 8.9,154.6 23.5,150.7 38.0,148.2 52.5,147.8 66.8,149.8 81.1,153.8 95.3,159.2 109.5,164.6 123.5,169.1 137.5,171.8 151.5,172.2 165.4,170.5 179.3,167.2 193.2,163.3 207.1,159.6 221.0,156.8 234.9,155.6 248.8,155.9 262.8,157.5 276.9,160.0 291.0,162.6 305.1,165.0 319.4,166.6 333.7,167.5 348.2,167.6 362.7,167.2 377.2,166.5 391.9,165.8 406.7,165.3 421.5,165.0 436.4,165.2 451.3,165.6 466.3,166.4 481.3,167.4 496.3,168.8 511.4,170.3 526.4,172.0 541.4,173.6 556.4,175.0 571.4,175.9 586.3,176.0 601.1,175.4 615.9,173.9 630.6,171.6 645.3,168.8 659.8,165.7 674.3,162.5 688.7,159.4 702.9,156.7 717.2,154.4 731.3,152.7 M-97.8,153.1 -82.7,158.2 -67.6,163.0 -52.6,166.2 -37.7,167.1 -22.8,165.5 -8.0,161.9 6.7,157.5 21.3,153.5 35.9,151.2 50.4,151.4 64.8,154.2 79.1,159.1 93.3,165.2 107.5,171.3 121.6,176.0 135.6,178.5 149.7,178.5 163.7,176.2 177.7,172.2 191.7,167.6 205.7,163.4 219.7,160.5 233.7,159.3 247.8,160.0 262.0,162.2 276.2,165.2 290.5,168.4 304.9,171.2 319.3,173.0 333.9,173.7 348.5,173.5 363.2,172.6 378.0,171.3 392.8,170.1 407.7,169.3 422.7,169.1 437.8,169.4 452.9,170.3 468.0,171.5 483.1,173.1 498.3,174.7 513.4,176.2 528.6,177.5 543.7,178.4 558.7,178.9 573.7,179.0 588.7,178.5 603.6,177.4 618.4,175.9 633.1,174.0 647.8,171.8 662.3,169.4 676.8,167.0 691.2,164.5 705.5,162.1 719.8,159.8 734.0,157.9" fill="none" stroke="#e3e4e7" stroke-width=".7"/>
<path d="M37.8,-0.9 35.3,-0.2 32.9,1.2 30.4,3.2 27.9,5.7 25.4,8.7 22.9,12.2 20.3,16.0 17.7,20.3 15.0,24.9 12.2,29.6 9.3,34.6 6.3,39.5 3.2,44.5 0.0,49.3 -3.3,53.9 -6.6,58.2 -10.1,62.2 -13.6,65.9 -17.2,69.1 -20.8,72.1 -24.5,74.7 -28.1,76.9 -31.8,79.0 -35.5,80.9 -39.2,82.7 -42.8,84.4 -46.4,86.2 -49.9,88.1 -53.4,90.1 -56.7,92.3 -60.0,94.8 -63.2,97.5 -66.3,100.5 -69.3,103.7 -72.2,107.2 -75.0,111.0 -77.7,114.9 -80.3,119.1 -82.9,123.5 -85.5,128.0 -87.9,132.7 -90.4,137.6 -92.9,142.6 -95.3,147.8 -97.8,153.1 M48.1,-2.2 45.7,-1.1 43.4,0.8 41.0,3.3 38.6,6.3 36.2,9.7 33.7,13.6 31.2,17.7 28.6,22.1 25.9,26.7 23.1,31.4 20.3,36.0 17.3,40.6 14.2,45.1 11.1,49.3 7.8,53.2 4.5,56.8 1.1,60.1 -2.4,63.1 -5.9,65.8 -9.5,68.2 -13.1,70.3 -16.6,72.3 -20.2,74.2 -23.8,76.1 -27.3,78.0 -30.8,80.0 -34.2,82.1 -37.5,84.4 -40.8,86.9 -44.0,89.7 -47.1,92.8 -50.0,96.1 -52.9,99.6 -55.7,103.5 -58.4,107.5 -61.0,111.8 -63.6,116.4 -66.1,121.1 -68.5,125.9 -70.9,131.0 -73.2,136.2 -75.6,141.5 -77.9,147.0 -80.3,152.5 -82.7,158.2 M58.4,-2.4 56.1,-0.9 53.9,1.5 51.6,4.4 49.3,7.7 46.9,11.4 44.5,15.3 42.0,19.5 39.4,23.8 36.8,28.2 34.0,32.5 31.2,36.7 28.2,40.7 25.2,44.6 22.0,48.1 18.8,51.5 15.5,54.5 12.2,57.2 8.7,59.8 5.3,62.1 1.8,64.3 -1.7,66.4 -5.1,68.4 -8.6,70.5 -12.0,72.7 -15.4,75.0 -18.7,77.4 -21.9,80.1 -25.1,82.9 -28.2,86.0 -31.1,89.4 -34.0,93.0 -36.8,96.9 -39.5,100.9 -42.1,105.3 -44.6,109.8 -47.1,114.5 -49.4,119.4 -51.8,124.5 -54.0,129.7 -56.3,135.1 -58.5,140.5 -60.8,146.1 -63.0,151.7 -65.3,157.3 -67.6,163.0 M68.6,-1.7 66.5,0.2 64.3,2.9 62.2,6.0 59.9,9.4 57.6,13.1 55.2,17.0 52.8,20.9 50.2,24.9 47.6,28.9 44.8,32.7 42.0,36.4 39.0,39.9 36.0,43.2 32.9,46.2 29.7,49.1 26.5,51.8 23.2,54.3 19.9,56.7 16.5,59.0 13.1,61.3 9.7,63.6 6.4,66.0 3.1,68.5 -0.2,71.1 -3.4,73.9 -6.5,76.9 -9.6,80.1 -12.6,83.5 -15.4,87.1 -18.2,90.9 -20.9,94.9 -23.5,99.2 -26.0,103.6 -28.4,108.2 -30.7,113.0 -33.0,117.9 -35.2,123.0 -37.4,128.3 -39.5,133.6 -41.7,139.1 -43.8,144.6 -46.0,150.1 -48.1,155.5 -50.4,160.9 -52.6,166.2 M78.9,-0.3 76.9,1.8 74.8,4.5 72.7,7.6 70.5,11.0 68.2,14.5 65.8,18.0 63.4,21.6 60.9,25.2 58.2,28.7 55.5,32.0 52.7,35.2 49.8,38.3 46.8,41.2 43.7,44.0 40.6,46.7 37.4,49.4 34.2,52.0 30.9,54.5 27.7,57.1 24.4,59.8 21.2,62.5 18.0,65.4 14.8,68.3 11.7,71.4 8.7,74.7 5.7,78.1 2.8,81.7 0.1,85.4 -2.6,89.3 -5.2,93.4 -7.7,97.6 -10.1,102.0 -12.4,106.5 -14.6,111.2 -16.8,116.1 -18.9,121.1 -21.0,126.2 -23.0,131.4 -25.0,136.7 -27.1,142.0 -29.1,147.2 -31.2,152.4 -33.3,157.5 -35.5,162.4 -37.7,167.1 M89.2,1.2 87.2,3.3 85.2,5.9 83.1,8.8 81.0,11.9 78.7,15.1 76.4,18.3 74.0,21.5 71.5,24.6 68.9,27.7 66.2,30.7 63.4,33.7 60.5,36.6 57.5,39.4 54.5,42.2 51.4,45.1 48.3,47.9 45.2,50.8 42.0,53.7 38.9,56.7 35.7,59.8 32.6,63.0 29.6,66.3 26.6,69.6 23.6,73.1 20.8,76.6 18.0,80.2 15.3,84.0 12.8,87.8 10.3,91.7 7.9,95.8 5.6,100.0 3.4,104.3 1.3,108.8 -0.8,113.4 -2.8,118.1 -4.8,123.0 -6.7,128.0 -8.6,133.0 -10.5,138.1 -12.5,143.1 -14.4,148.0 -16.4,152.7 -18.5,157.2 -20.6,161.5 -22.8,165.5 M99.4,2.4 97.5,4.3 95.6,6.6 93.5,9.2 91.4,12.0 89.2,14.8 86.9,17.7 84.5,20.6 82.0,23.5 79.4,26.4 76.7,29.3 73.9,32.2 71.1,35.2 68.2,38.2 65.2,41.3 62.2,44.5 59.2,47.7 56.1,51.0 53.1,54.4 50.1,57.8 47.1,61.2 44.1,64.7 41.2,68.2 38.4,71.7 35.6,75.2 33.0,78.7 30.4,82.3 27.9,85.9 25.5,89.5 23.3,93.3 21.1,97.2 19.0,101.2 16.9,105.3 15.0,109.6 13.1,114.1 11.2,118.7 9.4,123.4 7.6,128.2 5.8,133.0 4.0,137.7 2.1,142.4 0.2,146.8 -1.7,151.0 -3.8,155.0 -5.8,158.6 -8.0,161.9 M109.6,2.8 107.8,4.4 105.8,6.5 103.8,8.8 101.7,11.3 99.5,13.9 97.3,16.6 94.9,19.3 92.4,22.2 89.8,25.2 87.2,28.3 84.5,31.4 81.7,34.7 78.8,38.1 75.9,41.6 73.0,45.2 70.0,48.8 67.1,52.4 64.2,56.0 61.3,59.6 58.4,63.2 55.6,66.7 52.9,70.1 50.3,73.5 47.7,76.7 45.2,80.0 42.9,83.3 40.6,86.6 38.4,89.9 36.3,93.4 34.3,97.0 32.4,100.8 30.5,104.8 28.7,109.0 27.0,113.3 25.3,117.8 23.6,122.4 21.9,127.0 20.2,131.5 18.4,136.0 16.6,140.2 14.8,144.2 12.9,148.0 10.9,151.4 8.9,154.6 6.7,157.5 M119.8,2.4 118.0,3.7 116.1,5.6 114.1,7.7 112.0,10.1 109.8,12.7 107.6,15.4 105.2,18.3 102.7,21.4 100.2,24.7 97.6,28.1 94.9,31.7 92.2,35.4 89.4,39.2 86.6,43.0 83.7,46.9 80.9,50.7 78.1,54.5 75.3,58.1 72.5,61.6 69.9,65.0 67.2,68.2 64.7,71.2 62.2,74.2 59.9,77.0 57.6,79.8 55.4,82.7 53.3,85.6 51.4,88.7 49.5,91.9 47.6,95.4 45.9,99.1 44.2,103.0 42.5,107.2 40.9,111.5 39.3,116.0 37.7,120.5 36.1,124.9 34.5,129.3 32.8,133.5 31.1,137.5 29.3,141.2 27.5,144.7 25.5,147.8 23.5,150.7 21.3,153.5 M129.9,1.3 128.1,2.5 126.2,4.3 124.3,6.5 122.2,9.0 120.0,11.7 117.8,14.7 115.4,18.0 113.0,21.5 110.5,25.2 107.9,29.1 105.3,33.1 102.6,37.1 99.9,41.2 97.2,45.2 94.5,49.1 91.8,52.9 89.1,56.4 86.4,59.7 83.9,62.8 81.3,65.7 78.9,68.4 76.5,70.9 74.3,73.3 72.1,75.6 70.0,78.0 68.1,80.5 66.2,83.2 64.4,86.1 62.7,89.3 61.0,92.8 59.4,96.6 57.9,100.7 56.4,105.0 54.9,109.5 53.4,114.0 51.9,118.6 50.4,123.0 48.8,127.3 47.2,131.4 45.5,135.2 43.8,138.7 42.0,142.0 40.0,145.2 38.0,148.2 35.9,151.2 M139.9,-0.1 138.1,1.2 136.3,3.2 134.3,5.6 132.3,8.4 130.2,11.6 127.9,15.0 125.6,18.8 123.2,22.7 120.8,26.8 118.2,31.1 115.7,35.3 113.1,39.5 110.5,43.6 107.8,47.5 105.2,51.1 102.7,54.5 100.1,57.5 97.6,60.2 95.2,62.7 92.9,64.9 90.6,66.9 88.5,68.8 86.4,70.7 84.4,72.7 82.6,74.8 80.8,77.2 79.1,79.9 77.5,83.0 75.9,86.4 74.4,90.2 73.0,94.4 71.6,98.8 70.2,103.4 68.9,108.1 67.5,112.8 66.1,117.5 64.6,122.0 63.1,126.3 61.5,130.3 59.9,134.1 58.2,137.6 56.4,141.0 54.5,144.4 52.5,147.8 50.4,151.4 M149.8,-1.2 148.1,0.4 146.3,2.8 144.3,5.6 142.3,8.9 140.2,12.6 138.0,16.5 135.7,20.7 133.4,25.0 131.0,29.4 128.5,33.7 126.0,37.9 123.5,42.0 121.0,45.7 118.5,49.1 116.0,52.2 113.6,54.8 111.2,57.1 108.9,59.1 106.7,60.8 104.5,62.4 102.5,63.9 100.5,65.4 98.6,67.0 96.8,68.9 95.2,71.1 93.6,73.7 92.1,76.8 90.6,80.3 89.2,84.2 87.9,88.6 86.6,93.2 85.4,98.1 84.1,103.1 82.8,108.1 81.5,113.0 80.2,117.8 78.8,122.4 77.3,126.7 75.8,130.7 74.2,134.6 72.5,138.3 70.7,142.0 68.8,145.7 66.8,149.8 64.8,154.2 M159.7,-1.5 158.0,0.6 156.2,3.4 154.2,6.8 152.2,10.6 150.2,14.7 148.0,19.1 145.7,23.5 143.5,27.9 141.1,32.3 138.7,36.4 136.3,40.3 133.9,43.8 131.5,46.9 129.2,49.5 126.8,51.8 124.6,53.6 122.4,55.1 120.2,56.4 118.2,57.5 116.2,58.6 114.4,59.9 112.6,61.3 110.9,63.0 109.3,65.2 107.9,67.9 106.4,71.1 105.1,74.8 103.8,79.0 102.6,83.6 101.4,88.6 100.3,93.8 99.1,99.1 97.9,104.5 96.7,109.8 95.5,114.8 94.2,119.7 92.9,124.3 91.5,128.6 90.0,132.7 88.4,136.7 86.7,140.6 85.0,144.7 83.1,149.1 81.1,153.8 79.1,159.1 M169.5,-0.6 167.8,2.0 166.0,5.4 164.1,9.3 162.1,13.5 160.0,17.8 157.9,22.3 155.7,26.7 153.5,30.9 151.2,34.9 148.9,38.5 146.6,41.7 144.4,44.4 142.1,46.6 139.9,48.4 137.7,49.8 135.6,50.9 133.6,51.7 131.6,52.5 129.8,53.4 128.0,54.4 126.3,55.7 124.8,57.5 123.3,59.8 121.9,62.6 120.6,66.0 119.4,70.1 118.2,74.6 117.1,79.6 116.0,85.0 114.9,90.6 113.9,96.3 112.8,102.0 111.8,107.5 110.6,112.9 109.5,118.0 108.3,122.8 107.0,127.3 105.6,131.6 104.1,135.8 102.5,139.9 100.9,144.2 99.1,148.8 97.3,153.7 95.3,159.2 93.3,165.2 M179.1,1.5 177.5,4.6 175.7,8.4 173.8,12.6 171.9,16.9 169.9,21.3 167.8,25.6 165.7,29.6 163.5,33.3 161.3,36.5 159.2,39.3 157.0,41.6 154.8,43.4 152.7,44.8 150.6,45.7 148.6,46.4 146.7,47.0 144.9,47.5 143.1,48.2 141.5,49.2 139.9,50.5 138.4,52.4 137.0,54.9 135.8,58.1 134.6,61.8 133.4,66.2 132.4,71.2 131.4,76.6 130.4,82.3 129.4,88.3 128.5,94.3 127.5,100.2 126.6,106.0 125.6,111.5 124.5,116.8 123.4,121.7 122.2,126.3 120.9,130.7 119.6,134.9 118.1,139.2 116.6,143.5 114.9,148.1 113.2,153.1 111.4,158.6 109.5,164.6 107.5,171.3 M188.8,4.7 187.1,8.1 185.3,12.1 183.5,16.2 181.6,20.4 179.7,24.4 177.6,28.1 175.6,31.5 173.5,34.4 171.4,36.7 169.4,38.6 167.3,39.9 165.3,40.9 163.4,41.5 161.5,41.9 159.6,42.2 157.9,42.6 156.2,43.3 154.7,44.3 153.2,45.8 151.8,48.0 150.6,50.8 149.4,54.2 148.3,58.4 147.3,63.2 146.3,68.5 145.4,74.3 144.5,80.4 143.7,86.6 142.8,92.8 142.0,98.9 141.1,104.8 140.3,110.4 139.3,115.6 138.3,120.5 137.2,125.1 136.1,129.4 134.8,133.7 133.5,137.8 132.1,142.1 130.5,146.7 128.9,151.6 127.2,156.9 125.4,162.8 123.5,169.1 121.6,176.0 M198.3,8.4 196.6,11.8 194.9,15.7 193.1,19.5 191.3,23.2 189.4,26.5 187.4,29.4 185.5,31.9 183.5,33.8 181.5,35.2 179.6,36.2 177.7,36.8 175.8,37.1 174.1,37.3 172.3,37.5 170.7,37.9 169.1,38.6 167.7,39.8 166.3,41.6 165.1,44.0 163.9,47.2 162.8,51.0 161.8,55.6 160.9,60.7 160.0,66.4 159.2,72.5 158.5,78.7 157.7,85.1 157.0,91.4 156.3,97.5 155.5,103.4 154.7,108.9 153.9,114.0 153.0,118.8 152.0,123.2 151.0,127.4 149.9,131.4 148.7,135.5 147.3,139.6 145.9,144.0 144.4,148.7 142.8,153.8 141.1,159.3 139.4,165.4 137.5,171.8 135.6,178.5 M207.7,12.0 206.1,15.1 204.4,18.5 202.7,21.7 200.9,24.6 199.1,27.1 197.2,29.0 195.4,30.5 193.5,31.6 191.7,32.2 189.9,32.5 188.1,32.6 186.4,32.7 184.8,32.9 183.3,33.4 181.8,34.2 180.5,35.7 179.2,37.7 178.1,40.5 177.0,44.0 176.0,48.3 175.1,53.1 174.3,58.6 173.5,64.5 172.8,70.7 172.2,77.1 171.6,83.4 170.9,89.7 170.3,95.7 169.7,101.4 169.0,106.7 168.3,111.5 167.5,116.0 166.6,120.2 165.7,124.2 164.7,128.0 163.6,131.8 162.4,135.7 161.1,139.8 159.7,144.3 158.2,149.1 156.6,154.4 155.0,160.0 153.3,166.0 151.5,172.2 149.7,178.5 M217.1,14.7 215.5,17.3 213.9,20.0 212.2,22.3 210.5,24.3 208.8,25.8 207.0,26.9 205.3,27.6 203.5,27.9 201.8,28.0 200.2,28.0 198.6,28.1 197.1,28.4 195.7,29.0 194.3,30.1 193.1,31.8 191.9,34.2 190.8,37.3 189.9,41.2 189.0,45.7 188.2,50.8 187.5,56.4 186.8,62.4 186.2,68.7 185.7,75.0 185.2,81.3 184.7,87.3 184.1,93.1 183.6,98.4 183.0,103.4 182.4,108.0 181.8,112.1 181.0,116.0 180.2,119.7 179.3,123.2 178.3,126.8 177.2,130.5 176.0,134.4 174.8,138.7 173.4,143.2 171.9,148.2 170.4,153.4 168.8,159.0 167.1,164.7 165.4,170.5 163.7,176.2 M226.4,16.1 224.9,17.9 223.3,19.7 221.7,21.2 220.1,22.3 218.4,23.0 216.8,23.3 215.2,23.5 213.6,23.4 212.0,23.4 210.6,23.5 209.1,24.0 207.8,24.8 206.6,26.2 205.4,28.2 204.4,30.9 203.4,34.3 202.5,38.4 201.8,43.1 201.1,48.4 200.5,54.1 199.9,60.1 199.4,66.2 199.0,72.3 198.6,78.3 198.2,84.0 197.8,89.4 197.3,94.4 196.9,99.0 196.4,103.2 195.8,107.1 195.2,110.6 194.5,114.0 193.7,117.4 192.8,120.8 191.9,124.3 190.8,128.0 189.6,132.1 188.4,136.5 187.0,141.2 185.6,146.2 184.1,151.4 182.5,156.7 180.9,162.0 179.3,167.2 177.7,172.2 M235.7,15.8 234.2,16.8 232.7,17.7 231.2,18.4 229.6,18.7 228.1,18.9 226.6,18.9 225.1,18.8 223.7,18.8 222.3,19.1 221.0,19.7 219.7,20.7 218.6,22.4 217.6,24.7 216.6,27.6 215.7,31.3 215.0,35.6 214.3,40.4 213.7,45.7 213.2,51.3 212.8,57.2 212.4,63.1 212.1,68.9 211.7,74.5 211.4,79.9 211.1,84.9 210.8,89.5 210.5,93.7 210.1,97.5 209.7,101.1 209.2,104.4 208.6,107.6 207.9,110.8 207.1,114.1 206.3,117.5 205.3,121.2 204.2,125.2 203.1,129.4 201.9,134.0 200.6,138.8 199.2,143.7 197.7,148.8 196.2,153.8 194.7,158.6 193.2,163.3 191.7,167.6 M244.9,13.9 243.5,14.0 242.1,14.3 240.6,14.4 239.2,14.3 237.8,14.2 236.4,14.2 235.1,14.3 233.8,14.7 232.6,15.5 231.5,16.9 230.4,18.8 229.5,21.3 228.6,24.5 227.9,28.3 227.2,32.6 226.7,37.5 226.2,42.7 225.8,48.2 225.4,53.8 225.1,59.3 224.9,64.8 224.7,70.0 224.5,75.0 224.3,79.5 224.1,83.8 223.9,87.6 223.6,91.2 223.3,94.5 222.9,97.7 222.4,100.8 221.8,104.0 221.2,107.3 220.4,110.7 219.6,114.5 218.7,118.5 217.6,122.7 216.5,127.2 215.3,131.9 214.0,136.7 212.7,141.5 211.3,146.3 209.9,151.0 208.5,155.4 207.1,159.6 205.7,163.4 M254.0,10.6 252.7,10.2 251.4,10.0 250.1,9.9 248.8,9.7 247.5,9.7 246.3,10.0 245.1,10.6 244.0,11.6 243.0,13.2 242.0,15.3 241.2,18.1 240.5,21.4 239.8,25.2 239.2,29.6 238.8,34.4 238.4,39.4 238.1,44.6 237.9,49.9 237.7,55.1 237.6,60.2 237.5,65.0 237.4,69.5 237.3,73.7 237.2,77.6 237.1,81.3 236.9,84.7 236.7,87.9 236.4,91.1 236.0,94.2 235.6,97.5 235.1,100.9 234.4,104.5 233.7,108.4 232.9,112.5 231.9,116.8 230.9,121.4 229.9,126.0 228.7,130.7 227.5,135.5 226.2,140.1 224.9,144.6 223.6,148.9 222.3,153.0 221.0,156.8 219.7,160.5 M263.2,6.7 262.0,6.0 260.8,5.7 259.6,5.5 258.4,5.6 257.3,6.0 256.2,6.8 255.2,8.1 254.3,9.9 253.4,12.2 252.7,15.0 252.1,18.4 251.5,22.3 251.0,26.5 250.7,31.1 250.4,35.9 250.2,40.8 250.1,45.7 250.0,50.6 250.0,55.2 250.0,59.7 250.0,63.9 250.0,67.8 250.1,71.5 250.0,75.0 250.0,78.4 249.9,81.7 249.7,84.9 249.5,88.3 249.1,91.8 248.7,95.4 248.2,99.3 247.6,103.4 246.9,107.7 246.0,112.2 245.2,116.8 244.2,121.4 243.1,126.1 242.0,130.7 240.9,135.3 239.7,139.7 238.5,143.9 237.3,147.9 236.1,151.8 234.9,155.6 233.7,159.3 M272.3,2.7 271.2,2.0 270.1,1.8 269.1,2.0 268.0,2.6 267.1,3.5 266.2,5.0 265.4,6.9 264.6,9.3 264.0,12.3 263.4,15.7 263.0,19.4 262.6,23.5 262.4,27.9 262.2,32.4 262.1,37.0 262.1,41.5 262.1,46.0 262.2,50.3 262.3,54.4 262.4,58.4 262.6,62.2 262.7,65.8 262.8,69.3 262.9,72.7 262.9,76.2 262.8,79.7 262.7,83.4 262.4,87.2 262.1,91.2 261.7,95.4 261.2,99.7 260.6,104.2 259.9,108.8 259.1,113.5 258.3,118.2 257.4,122.8 256.4,127.3 255.3,131.7 254.2,136.0 253.1,140.1 252.0,144.1 250.9,148.0 249.9,152.0 248.8,155.9 247.8,160.0 M281.4,-0.8 280.5,-1.2 279.5,-1.0 278.6,-0.3 277.7,0.8 276.9,2.4 276.2,4.4 275.6,6.9 275.1,9.9 274.6,13.2 274.3,16.8 274.0,20.7 273.8,24.8 273.8,29.0 273.8,33.2 273.9,37.5 274.0,41.6 274.2,45.6 274.4,49.6 274.6,53.4 274.9,57.1 275.1,60.7 275.3,64.4 275.5,68.1 275.6,71.8 275.7,75.7 275.6,79.7 275.5,83.9 275.3,88.2 275.0,92.7 274.7,97.3 274.2,102.0 273.6,106.7 272.9,111.4 272.2,116.0 271.4,120.5 270.5,124.9 269.5,129.1 268.6,133.2 267.6,137.2 266.6,141.2 265.6,145.1 264.6,149.1 263.7,153.2 262.8,157.5 262.0,162.2 M290.6,-3.1 289.7,-3.1 288.9,-2.4 288.2,-1.2 287.5,0.4 286.9,2.5 286.3,5.0 285.9,7.8 285.6,11.0 285.3,14.5 285.2,18.1 285.1,21.9 285.1,25.8 285.3,29.8 285.4,33.7 285.7,37.6 286.0,41.4 286.3,45.2 286.6,49.0 287.0,52.8 287.3,56.6 287.7,60.5 287.9,64.5 288.2,68.6 288.3,72.8 288.4,77.2 288.4,81.8 288.3,86.4 288.2,91.2 287.9,96.0 287.5,100.8 287.0,105.5 286.5,110.1 285.9,114.6 285.1,118.9 284.4,123.0 283.6,127.0 282.7,130.9 281.8,134.7 280.9,138.5 280.0,142.3 279.2,146.3 278.3,150.6 277.6,155.1 276.9,160.0 276.2,165.2 M299.8,-4.2 299.1,-3.8 298.4,-2.6 297.8,-1.0 297.3,1.0 296.9,3.5 296.5,6.2 296.3,9.2 296.2,12.4 296.1,15.8 296.2,19.3 296.3,22.9 296.5,26.6 296.8,30.3 297.1,34.0 297.5,37.7 298.0,41.5 298.4,45.4 298.9,49.3 299.3,53.3 299.8,57.5 300.1,61.8 300.5,66.3 300.8,71.0 301.0,75.7 301.1,80.6 301.1,85.5 301.0,90.4 300.9,95.3 300.6,100.1 300.3,104.7 299.8,109.1 299.3,113.3 298.7,117.3 298.1,121.1 297.3,124.8 296.6,128.3 295.8,131.9 295.0,135.5 294.3,139.3 293.5,143.2 292.8,147.5 292.1,152.2 291.5,157.2 291.0,162.6 290.5,168.4 M309.0,-4.2 308.4,-3.4 307.9,-1.9 307.5,0.1 307.2,2.3 307.0,4.9 306.8,7.7 306.8,10.6 306.8,13.8 307.0,17.0 307.2,20.3 307.5,23.8 307.9,27.3 308.4,30.9 308.9,34.6 309.4,38.4 310.0,42.4 310.5,46.5 311.1,50.9 311.6,55.4 312.1,60.0 312.6,64.9 313.0,69.8 313.3,74.9 313.5,80.0 313.7,85.0 313.7,90.0 313.7,94.8 313.5,99.4 313.3,103.7 313.0,107.8 312.6,111.6 312.1,115.2 311.5,118.6 310.9,121.9 310.3,125.1 309.6,128.4 308.9,131.8 308.3,135.4 307.6,139.3 307.0,143.6 306.4,148.4 305.9,153.5 305.5,159.1 305.1,165.0 304.9,171.2 M318.2,-3.3 317.8,-2.2 317.5,-0.5 317.3,1.5 317.2,3.8 317.1,6.3 317.2,9.0 317.3,11.9 317.6,14.8 317.9,18.0 318.4,21.2 318.9,24.6 319.4,28.1 320.0,31.9 320.7,35.8 321.3,40.0 322.0,44.3 322.7,48.9 323.3,53.7 323.9,58.7 324.5,63.8 325.0,69.0 325.4,74.3 325.8,79.4 326.0,84.5 326.2,89.3 326.3,93.9 326.2,98.2 326.1,102.1 325.9,105.8 325.6,109.1 325.2,112.2 324.8,115.2 324.3,118.0 323.8,120.9 323.2,123.8 322.6,127.0 322.1,130.5 321.5,134.4 321.0,138.8 320.6,143.5 320.1,148.8 319.8,154.4 319.6,160.4 319.4,166.6 319.3,173.0 M327.5,-2.0 327.3,-0.8 327.2,0.9 327.2,2.9 327.2,5.1 327.4,7.5 327.6,10.0 328.0,12.8 328.4,15.7 329.0,18.8 329.6,22.1 330.2,25.6 330.9,29.4 331.7,33.5 332.5,37.8 333.2,42.4 334.0,47.3 334.8,52.3 335.5,57.5 336.2,62.8 336.8,68.2 337.3,73.4 337.8,78.5 338.2,83.4 338.4,87.9 338.6,92.2 338.7,96.0 338.7,99.5 338.6,102.6 338.4,105.4 338.1,108.0 337.8,110.5 337.4,112.9 337.0,115.4 336.6,118.1 336.1,121.2 335.7,124.6 335.2,128.5 334.8,132.9 334.5,137.8 334.2,143.1 333.9,148.9 333.8,155.0 333.7,161.2 333.7,167.5 333.9,173.7 M336.9,-0.7 336.9,0.3 336.9,1.9 337.1,3.8 337.4,5.9 337.7,8.2 338.2,10.7 338.7,13.4 339.3,16.4 340.1,19.7 340.8,23.2 341.6,27.1 342.5,31.3 343.4,35.8 344.3,40.6 345.1,45.6 346.0,50.8 346.8,56.2 347.6,61.5 348.4,66.8 349.0,71.9 349.6,76.8 350.1,81.4 350.5,85.6 350.8,89.3 351.0,92.7 351.1,95.6 351.1,98.2 351.0,100.4 350.9,102.5 350.6,104.6 350.4,106.6 350.1,108.9 349.7,111.5 349.4,114.4 349.0,117.9 348.7,121.8 348.4,126.4 348.1,131.4 347.9,136.9 347.8,142.8 347.8,148.9 347.8,155.2 347.9,161.5 348.2,167.6 348.5,173.5 M346.3,0.0 346.5,1.0 346.8,2.4 347.1,4.2 347.6,6.2 348.1,8.5 348.8,11.1 349.5,13.9 350.3,17.2 351.2,20.8 352.1,24.7 353.1,29.0 354.1,33.6 355.1,38.5 356.1,43.7 357.0,49.0 358.0,54.3 358.9,59.6 359.7,64.7 360.5,69.6 361.2,74.2 361.8,78.3 362.3,82.0 362.7,85.3 363.0,88.1 363.2,90.4 363.3,92.5 363.4,94.3 363.3,95.9 363.2,97.6 363.1,99.5 362.9,101.6 362.7,104.1 362.4,107.1 362.2,110.7 361.9,114.8 361.8,119.5 361.6,124.8 361.5,130.5 361.5,136.5 361.5,142.8 361.7,149.1 361.9,155.4 362.2,161.4 362.7,167.2 363.2,172.6 M355.8,0.1 356.2,0.9 356.7,2.3 357.2,4.0 357.9,6.1 358.6,8.5 359.5,11.3 360.4,14.5 361.4,18.1 362.4,22.1 363.5,26.5 364.6,31.2 365.7,36.1 366.8,41.3 367.8,46.6 368.9,51.8 369.9,56.9 370.9,61.8 371.7,66.3 372.5,70.5 373.2,74.2 373.9,77.4 374.4,80.1 374.8,82.3 375.1,84.2 375.4,85.8 375.5,87.2 375.6,88.6 375.6,90.1 375.6,91.8 375.5,93.9 375.4,96.5 375.2,99.7 375.1,103.5 375.0,107.9 374.9,112.9 374.9,118.4 374.9,124.3 374.9,130.6 375.1,136.9 375.3,143.3 375.7,149.6 376.1,155.6 376.6,161.3 377.2,166.5 378.0,171.3 M365.4,-0.5 366.0,0.3 366.7,1.6 367.4,3.5 368.3,5.8 369.2,8.5 370.2,11.7 371.3,15.3 372.4,19.3 373.6,23.7 374.8,28.4 376.0,33.3 377.2,38.4 378.4,43.6 379.6,48.6 380.7,53.5 381.8,58.0 382.8,62.2 383.7,65.9 384.5,69.1 385.2,71.8 385.9,74.0 386.4,75.8 386.9,77.2 387.2,78.5 387.5,79.7 387.7,80.9 387.8,82.3 387.9,84.2 387.9,86.4 387.9,89.3 387.9,92.7 387.8,96.9 387.8,101.6 387.8,106.9 387.9,112.7 388.0,118.9 388.2,125.3 388.4,131.8 388.8,138.2 389.2,144.4 389.8,150.4 390.4,155.9 391.1,161.1 391.9,165.8 392.8,170.1 M375.1,-1.6 375.9,-0.8 376.8,0.8 377.7,2.9 378.7,5.5 379.9,8.7 381.0,12.2 382.3,16.2 383.6,20.6 384.9,25.3 386.2,30.2 387.5,35.1 388.8,40.1 390.1,44.9 391.3,49.4 392.5,53.6 393.6,57.3 394.6,60.6 395.6,63.3 396.4,65.6 397.2,67.4 397.8,68.8 398.4,70.0 398.8,71.1 399.2,72.2 399.5,73.4 399.8,75.0 399.9,77.0 400.1,79.6 400.2,82.8 400.2,86.6 400.3,91.1 400.4,96.3 400.5,101.9 400.7,108.0 400.9,114.4 401.2,120.9 401.6,127.5 402.0,133.9 402.6,140.0 403.2,145.9 403.9,151.3 404.7,156.3 405.7,161.0 406.7,165.3 407.7,169.3 M384.9,-2.9 385.9,-1.8 386.9,0.1 388.1,2.6 389.3,5.6 390.6,9.1 391.9,13.1 393.3,17.4 394.7,22.0 396.1,26.7 397.6,31.5 399.0,36.2 400.4,40.7 401.7,44.9 403.0,48.7 404.2,52.0 405.3,54.9 406.4,57.2 407.4,59.1 408.2,60.7 409.0,61.9 409.7,63.0 410.2,64.0 410.7,65.2 411.2,66.6 411.5,68.5 411.8,70.8 412.0,73.8 412.2,77.4 412.4,81.7 412.6,86.6 412.8,92.1 413.0,98.0 413.3,104.3 413.6,110.9 414.0,117.5 414.5,124.0 415.0,130.3 415.7,136.3 416.4,142.0 417.2,147.3 418.2,152.2 419.2,156.7 420.3,161.0 421.5,165.0 422.7,169.1 M394.8,-4.0 395.9,-2.6 397.2,-0.3 398.5,2.6 399.9,6.1 401.3,9.9 402.8,14.2 404.3,18.6 405.9,23.2 407.4,27.7 408.9,32.1 410.4,36.3 411.9,40.2 413.3,43.6 414.6,46.6 415.8,49.1 417.0,51.2 418.1,52.9 419.1,54.2 419.9,55.4 420.7,56.5 421.4,57.7 422.0,59.1 422.6,60.8 423.0,63.0 423.4,65.8 423.8,69.2 424.1,73.3 424.4,78.0 424.7,83.3 425.0,89.1 425.3,95.2 425.7,101.7 426.1,108.2 426.6,114.7 427.2,121.1 427.8,127.3 428.6,133.1 429.4,138.5 430.3,143.6 431.4,148.3 432.5,152.7 433.7,156.9 435.0,161.0 436.4,165.2 437.8,169.4 M404.7,-4.6 406.0,-2.8 407.5,-0.1 409.0,3.2 410.5,7.0 412.1,11.0 413.7,15.3 415.4,19.7 417.0,24.0 418.6,28.1 420.3,32.0 421.8,35.6 423.3,38.7 424.8,41.4 426.1,43.6 427.4,45.5 428.6,47.1 429.7,48.4 430.7,49.6 431.6,50.9 432.4,52.3 433.1,54.0 433.8,56.2 434.3,58.8 434.8,62.1 435.3,65.9 435.7,70.4 436.1,75.5 436.5,81.0 437.0,87.0 437.4,93.2 437.9,99.7 438.4,106.1 439.0,112.4 439.7,118.6 440.4,124.4 441.3,129.9 442.2,135.1 443.2,139.9 444.4,144.4 445.6,148.7 446.9,152.8 448.3,157.0 449.8,161.2 451.3,165.6 452.9,170.3 M414.7,-4.5 416.2,-2.3 417.8,0.8 419.5,4.3 421.2,8.2 422.9,12.3 424.7,16.4 426.4,20.4 428.2,24.3 429.9,27.9 431.5,31.2 433.2,34.0 434.7,36.5 436.2,38.6 437.6,40.4 438.9,42.0 440.1,43.4 441.2,44.8 442.2,46.3 443.2,48.0 444.0,50.1 444.7,52.7 445.4,55.8 446.0,59.5 446.6,63.7 447.2,68.5 447.7,73.8 448.2,79.5 448.7,85.5 449.3,91.7 449.8,97.9 450.5,104.1 451.2,110.1 451.9,115.9 452.8,121.3 453.7,126.4 454.8,131.2 455.9,135.8 457.1,140.1 458.5,144.2 459.9,148.4 461.4,152.6 463.0,156.9 464.6,161.5 466.3,166.4 468.0,171.5 M424.8,-3.7 426.5,-1.2 428.2,2.1 430.0,5.7 431.9,9.6 433.7,13.4 435.6,17.2 437.5,20.8 439.3,24.2 441.1,27.2 442.8,29.8 444.5,32.2 446.1,34.2 447.6,36.0 449.0,37.6 450.3,39.2 451.5,40.8 452.7,42.6 453.7,44.8 454.6,47.3 455.5,50.2 456.3,53.7 457.0,57.7 457.7,62.3 458.4,67.2 459.0,72.6 459.6,78.3 460.2,84.2 460.9,90.1 461.6,96.0 462.3,101.8 463.1,107.3 464.0,112.6 465.0,117.6 466.0,122.3 467.1,126.8 468.4,131.0 469.7,135.1 471.1,139.2 472.7,143.4 474.3,147.7 475.9,152.2 477.7,157.0 479.5,162.1 481.3,167.4 483.1,173.1 M434.9,-2.3 436.8,0.4 438.7,3.7 440.6,7.2 442.6,10.8 444.6,14.3 446.5,17.7 448.5,20.8 450.4,23.6 452.2,26.1 454.0,28.4 455.7,30.4 457.3,32.2 458.8,34.0 460.3,35.8 461.6,37.7 462.9,39.8 464.0,42.3 465.1,45.2 466.1,48.5 467.0,52.3 467.8,56.5 468.6,61.1 469.4,66.2 470.1,71.5 470.8,76.9 471.6,82.5 472.3,88.1 473.1,93.5 473.9,98.8 474.9,103.8 475.8,108.5 476.9,113.1 478.0,117.3 479.3,121.5 480.6,125.5 482.1,129.5 483.6,133.6 485.2,137.8 486.9,142.3 488.7,147.0 490.5,152.1 492.4,157.4 494.4,163.0 496.3,168.8 498.3,174.7 M445.1,-0.5 447.1,2.2 449.2,5.3 451.3,8.6 453.3,11.8 455.4,14.9 457.4,17.8 459.5,20.5 461.4,22.9 463.3,25.1 465.1,27.1 466.8,29.0 468.5,31.0 470.0,33.0 471.5,35.2 472.9,37.6 474.1,40.4 475.3,43.5 476.4,47.1 477.4,51.0 478.4,55.3 479.3,59.9 480.1,64.8 481.0,69.9 481.8,75.0 482.7,80.2 483.5,85.2 484.4,90.1 485.4,94.7 486.4,99.2 487.5,103.5 488.6,107.5 489.9,111.4 491.2,115.3 492.7,119.2 494.2,123.2 495.8,127.4 497.5,131.9 499.4,136.6 501.2,141.6 503.2,147.0 505.2,152.6 507.2,158.5 509.3,164.4 511.4,170.3 513.4,176.2 M455.3,1.3 457.5,3.8 459.7,6.7 461.9,9.6 464.1,12.5 466.2,15.1 468.3,17.6 470.4,19.9 472.4,22.1 474.3,24.2 476.2,26.2 477.9,28.3 479.6,30.5 481.2,33.0 482.6,35.6 484.0,38.6 485.3,42.0 486.5,45.6 487.6,49.6 488.7,53.8 489.7,58.3 490.7,62.9 491.6,67.6 492.6,72.3 493.5,76.9 494.5,81.3 495.5,85.6 496.6,89.7 497.7,93.6 498.9,97.4 500.1,101.1 501.5,104.8 502.9,108.5 504.5,112.4 506.1,116.6 507.8,121.0 509.7,125.8 511.6,130.9 513.6,136.3 515.6,142.1 517.7,148.0 519.9,154.1 522.0,160.2 524.2,166.2 526.4,172.0 528.6,177.5 M465.6,3.0 467.9,5.2 470.2,7.7 472.5,10.2 474.7,12.7 477.0,15.0 479.2,17.2 481.3,19.4 483.3,21.5 485.3,23.6 487.1,25.9 488.9,28.3 490.6,30.9 492.2,33.7 493.7,36.8 495.1,40.2 496.4,43.9 497.6,47.8 498.8,51.8 499.9,56.0 501.0,60.2 502.1,64.4 503.1,68.6 504.2,72.6 505.3,76.4 506.4,80.1 507.5,83.7 508.8,87.2 510.1,90.6 511.4,94.1 512.9,97.7 514.4,101.5 516.1,105.5 517.8,109.9 519.6,114.7 521.6,119.9 523.6,125.5 525.7,131.4 527.8,137.6 530.0,143.9 532.3,150.3 534.6,156.5 536.9,162.6 539.2,168.3 541.4,173.6 543.7,178.4 M475.9,4.1 478.3,6.0 480.7,8.1 483.1,10.3 485.4,12.5 487.7,14.6 489.9,16.7 492.1,18.9 494.2,21.1 496.1,23.5 498.0,26.0 499.8,28.7 501.5,31.6 503.1,34.8 504.7,38.1 506.1,41.7 507.4,45.4 508.7,49.1 510.0,52.9 511.2,56.7 512.3,60.4 513.5,63.9 514.7,67.4 515.8,70.7 517.1,73.9 518.3,77.0 519.6,80.2 521.0,83.4 522.5,86.9 524.1,90.5 525.7,94.5 527.5,98.9 529.3,103.8 531.2,109.1 533.3,114.8 535.4,120.9 537.6,127.3 539.8,133.9 542.1,140.6 544.5,147.2 546.9,153.6 549.3,159.7 551.7,165.3 554.1,170.4 556.4,175.0 558.7,178.9 M486.2,4.7 488.7,6.2 491.2,8.1 493.6,10.0 496.0,12.1 498.4,14.1 500.6,16.3 502.8,18.6 504.9,21.0 506.9,23.5 508.8,26.3 510.7,29.2 512.4,32.4 514.0,35.6 515.6,39.0 517.0,42.4 518.4,45.8 519.8,49.1 521.1,52.4 522.4,55.6 523.6,58.6 524.9,61.6 526.2,64.4 527.5,67.3 528.9,70.1 530.3,73.1 531.8,76.4 533.4,79.9 535.0,83.8 536.8,88.2 538.6,93.1 540.6,98.5 542.6,104.4 544.7,110.7 547.0,117.4 549.2,124.3 551.6,131.4 554.0,138.4 556.5,145.2 559.0,151.6 561.5,157.7 564.0,163.1 566.5,168.0 569.0,172.2 571.4,175.9 573.7,179.0 M496.5,4.7 499.1,6.0 501.6,7.7 504.2,9.5 506.6,11.5 509.0,13.7 511.3,15.9 513.5,18.4 515.6,21.0 517.6,23.7 519.6,26.6 521.4,29.6 523.1,32.6 524.8,35.7 526.4,38.8 527.9,41.9 529.4,44.8 530.8,47.6 532.2,50.3 533.5,52.9 534.9,55.5 536.3,58.0 537.7,60.7 539.2,63.4 540.7,66.5 542.3,69.9 544.0,73.7 545.8,78.1 547.6,83.0 549.6,88.4 551.6,94.4 553.8,101.0 556.0,107.9 558.3,115.1 560.7,122.5 563.2,129.9 565.7,137.1 568.3,144.0 570.9,150.5 573.5,156.3 576.1,161.6 578.7,166.1 581.3,170.0 583.8,173.2 586.3,176.0 588.7,178.5 M506.8,4.2 509.4,5.4 512.1,7.1 514.6,8.9 517.1,11.0 519.5,13.3 521.9,15.7 524.1,18.2 526.2,20.9 528.3,23.7 530.2,26.5 532.1,29.4 533.8,32.2 535.5,35.0 537.2,37.7 538.7,40.2 540.3,42.6 541.8,45.0 543.2,47.3 544.7,49.5 546.2,51.9 547.8,54.5 549.3,57.4 551.0,60.6 552.7,64.3 554.4,68.6 556.3,73.5 558.3,79.0 560.3,85.1 562.5,91.8 564.7,98.9 567.0,106.4 569.5,114.1 572.0,121.9 574.5,129.5 577.2,136.8 579.8,143.6 582.5,149.9 585.3,155.5 588.0,160.4 590.7,164.5 593.4,168.0 596.0,170.8 598.6,173.2 601.1,175.4 603.6,177.4 M517.0,3.6 519.7,4.8 522.4,6.5 525.0,8.5 527.5,10.6 530.0,13.0 532.3,15.5 534.6,18.1 536.7,20.7 538.8,23.4 540.8,26.0 542.7,28.6 544.5,31.1 546.2,33.4 547.9,35.6 549.5,37.7 551.1,39.8 552.7,41.9 554.3,44.1 555.9,46.5 557.6,49.1 559.2,52.2 561.0,55.8 562.8,59.9 564.7,64.7 566.6,70.2 568.7,76.3 570.8,83.1 573.1,90.4 575.4,98.1 577.9,106.0 580.4,114.1 583.0,122.0 585.7,129.7 588.4,137.0 591.2,143.6 594.0,149.6 596.8,154.8 599.7,159.2 602.5,162.8 605.3,165.8 608.0,168.2 610.7,170.2 613.4,172.1 615.9,173.9 618.4,175.9 M527.2,3.1 530.0,4.3 532.7,6.1 535.4,8.2 537.9,10.4 540.4,12.8 542.7,15.3 545.0,17.8 547.2,20.3 549.3,22.7 551.3,25.0 553.2,27.2 555.0,29.3 556.8,31.3 558.6,33.2 560.3,35.1 562.0,37.1 563.7,39.3 565.4,41.8 567.1,44.7 568.9,48.1 570.8,52.1 572.7,56.8 574.7,62.2 576.7,68.2 578.9,75.0 581.1,82.3 583.5,90.1 585.9,98.2 588.5,106.4 591.1,114.6 593.8,122.6 596.6,130.2 599.4,137.2 602.3,143.5 605.2,149.0 608.2,153.6 611.1,157.5 614.0,160.6 616.9,163.0 619.8,165.0 622.6,166.6 625.4,168.1 628.0,169.7 630.6,171.6 633.1,174.0 M537.4,2.8 540.2,4.1 542.9,6.0 545.6,8.1 548.2,10.4 550.7,12.8 553.1,15.1 555.3,17.4 557.5,19.6 559.6,21.7 561.7,23.7 563.6,25.6 565.5,27.4 567.4,29.2 569.2,31.1 571.0,33.1 572.8,35.4 574.7,38.1 576.5,41.3 578.4,45.1 580.3,49.6 582.4,54.8 584.4,60.7 586.6,67.3 588.9,74.5 591.2,82.2 593.7,90.4 596.2,98.7 598.9,107.0 601.6,115.2 604.4,123.0 607.3,130.3 610.2,136.9 613.2,142.6 616.3,147.6 619.3,151.6 622.4,154.8 625.4,157.3 628.4,159.2 631.4,160.7 634.3,162.0 637.2,163.2 639.9,164.6 642.7,166.5 645.3,168.8 647.8,171.8 M547.5,2.8 550.3,4.3 553.1,6.2 555.8,8.3 558.4,10.5 560.9,12.7 563.3,14.8 565.6,16.8 567.8,18.8 570.0,20.6 572.0,22.3 574.0,24.0 576.0,25.7 577.9,27.6 579.9,29.8 581.8,32.3 583.7,35.3 585.7,38.8 587.7,43.0 589.7,47.9 591.8,53.5 594.0,59.9 596.3,66.9 598.6,74.5 601.1,82.5 603.7,90.8 606.3,99.1 609.1,107.4 611.9,115.3 614.8,122.8 617.8,129.5 620.8,135.5 623.9,140.7 627.1,144.9 630.2,148.3 633.4,150.9 636.5,152.8 639.6,154.2 642.7,155.2 645.8,156.1 648.7,157.2 651.6,158.5 654.5,160.3 657.2,162.6 659.8,165.7 662.3,169.4 M557.5,3.2 560.4,4.7 563.2,6.5 565.9,8.5 568.5,10.5 571.0,12.5 573.4,14.3 575.8,16.1 578.0,17.8 580.2,19.4 582.3,21.0 584.4,22.8 586.5,24.8 588.5,27.1 590.5,29.8 592.5,33.0 594.6,36.9 596.7,41.4 598.9,46.7 601.1,52.7 603.4,59.4 605.7,66.7 608.2,74.5 610.8,82.5 613.4,90.8 616.2,98.9 619.0,106.9 622.0,114.4 625.0,121.3 628.1,127.5 631.2,132.8 634.4,137.2 637.7,140.8 640.9,143.4 644.2,145.4 647.4,146.8 650.7,147.7 653.9,148.4 657.0,149.1 660.1,150.0 663.1,151.3 666.0,153.1 668.9,155.5 671.6,158.6 674.3,162.5 676.8,167.0 M567.4,3.8 570.3,5.2 573.2,6.9 575.9,8.7 578.5,10.4 581.1,12.1 583.5,13.7 585.9,15.3 588.2,16.8 590.4,18.4 592.6,20.2 594.8,22.3 596.9,24.7 599.0,27.6 601.2,31.1 603.3,35.3 605.5,40.1 607.8,45.7 610.1,51.9 612.5,58.8 615.0,66.1 617.5,73.9 620.2,81.9 623.0,89.8 625.8,97.7 628.8,105.1 631.8,112.1 634.9,118.3 638.1,123.8 641.4,128.4 644.7,132.1 648.0,135.0 651.4,137.0 654.8,138.4 658.1,139.4 661.5,140.0 664.8,140.5 668.0,141.0 671.2,141.9 674.4,143.2 677.4,145.1 680.4,147.7 683.2,150.9 686.0,154.9 688.7,159.4 691.2,164.5 M577.3,4.3 580.2,5.5 583.1,7.0 585.8,8.5 588.5,10.0 591.0,11.4 593.5,12.9 595.9,14.3 598.3,15.9 600.6,17.8 602.8,19.9 605.1,22.5 607.3,25.5 609.6,29.2 611.8,33.6 614.1,38.6 616.5,44.3 618.9,50.6 621.4,57.5 624.0,64.8 626.7,72.4 629.4,80.1 632.3,87.7 635.3,95.0 638.3,101.9 641.5,108.2 644.7,113.8 648.0,118.5 651.3,122.4 654.7,125.4 658.2,127.7 661.7,129.2 665.1,130.2 668.6,130.8 672.1,131.3 675.5,131.7 678.9,132.3 682.2,133.3 685.4,134.7 688.6,136.8 691.6,139.6 694.6,143.0 697.5,147.0 700.3,151.7 702.9,156.7 705.5,162.1 M587.1,4.5 590.0,5.4 592.9,6.6 595.7,7.9 598.3,9.2 600.9,10.5 603.4,11.9 605.9,13.4 608.3,15.3 610.7,17.4 613.0,20.1 615.4,23.3 617.7,27.1 620.1,31.6 622.5,36.7 625.0,42.4 627.5,48.7 630.1,55.5 632.8,62.5 635.6,69.8 638.5,77.1 641.4,84.2 644.5,91.0 647.6,97.2 650.9,102.8 654.2,107.7 657.6,111.8 661.1,115.0 664.6,117.5 668.1,119.3 671.7,120.5 675.3,121.2 678.9,121.7 682.4,122.1 686.0,122.6 689.5,123.3 692.9,124.5 696.2,126.2 699.5,128.6 702.7,131.6 705.8,135.2 708.8,139.4 711.7,144.1 714.5,149.1 717.2,154.4 719.8,159.8 M596.8,4.2 599.8,4.8 602.6,5.7 605.4,6.8 608.1,7.9 610.8,9.2 613.3,10.7 615.9,12.5 618.3,14.7 620.8,17.4 623.3,20.7 625.7,24.5 628.2,29.0 630.7,34.1 633.3,39.7 635.9,45.9 638.6,52.4 641.4,59.2 644.3,66.1 647.3,72.9 650.3,79.4 653.5,85.6 656.7,91.2 660.1,96.2 663.5,100.4 667.0,103.9 670.6,106.7 674.2,108.8 677.9,110.2 681.5,111.2 685.2,111.9 688.9,112.4 692.6,113.0 696.2,113.7 699.8,114.7 703.4,116.2 706.8,118.3 710.2,120.9 713.5,124.1 716.7,128.0 719.8,132.3 722.8,137.0 725.7,142.1 728.6,147.4 731.3,152.7 734.0,157.9" fill="none" stroke="#dfe0e4" stroke-width=".7"/>
<rect width="632" height="151" fill="url(#fg)"/>
</svg>
<div id="proj"></div>
<h1><span style="left:15px;top:30.5px;transform:scaleX(0.995)">Latest</span> <span style="left:139.7px;top:30.5px;transform:scaleX(1.031)">World</span> <span style="left:264.1px;top:30.5px;transform:scaleX(1.086)">Economic</span> <span style="left:489.7px;top:30.5px;transform:scaleX(0.993)">Outlook</span> <span style="left:16px;top:73.5px;transform:scaleX(1.076)">Growth</span> <span style="left:175.8px;top:73.5px;transform:scaleX(1.005)">Projections</span></h1>
<div class="hd" id="pj">PROJECTIONS</div>
<div class="hd" id="sub">(real GDP, annual percent change)</div>
<div class="hd yr" style="left:404.7px">2020</div>
<div class="hd yr" style="left:497.4px">2021</div>
<div class="hd yr" style="left:584.7px">2022</div>
<div class="row o" style="top:208.4px"><span class="l" style="transform:scaleX(1.08);transform-origin:0 0">World Output</span><span class="n n0">–3.3</span><span class="n n1">6.0</span><span class="n n2">4.4</span></div>
<div class="row b" style="top:235.5px"><span class="l" style="transform:scaleX(1.027);transform-origin:0 0">Advanced Economies</span><span class="n n0">–4.7</span><span class="n n1">5.1</span><span class="n n2">3.6</span></div>
<div class="row B s" style="top:262.6px"><span class="l" style="letter-spacing:-0.033px">United States</span><span class="n n0">–3.5</span><span class="n n1">6.4</span><span class="n n2">3.5</span></div>
<div class="row B w" style="top:289.8px"><span class="l" style="letter-spacing:-0.175px">Euro Area</span><span class="n n0">–6.6</span><span class="n n1">4.4</span><span class="n n2">3.8</span></div>
<div class="row r s" style="top:316.9px"><span class="l" style="letter-spacing:0.233px">Germany</span><span class="n n0">–4.9</span><span class="n n1">3.6</span><span class="n n2">3.4</span></div>
<div class="row r w" style="top:344.0px"><span class="l" style="letter-spacing:-0.22px">France</span><span class="n n0">–8.2</span><span class="n n1">5.8</span><span class="n n2">4.2</span></div>
<div class="row r s" style="top:371.1px"><span class="l" style="letter-spacing:0.4px">Italy</span><span class="n n0">–8.9</span><span class="n n1">4.2</span><span class="n n2">3.6</span></div>
<div class="row r w" style="top:398.2px"><span class="l" style="letter-spacing:0.15px">Spain</span><span class="n n0">–11.0</span><span class="n n1">6.4</span><span class="n n2">4.7</span></div>
<div class="row B s" style="top:425.4px"><span class="l" style="letter-spacing:0.225px">Japan</span><span class="n n0">–4.8</span><span class="n n1">3.3</span><span class="n n2">2.5</span></div>
<div class="row B w" style="top:452.5px"><span class="l" style="letter-spacing:0.177px">United Kingdom</span><span class="n n0">–9.9</span><span class="n n1">5.3</span><span class="n n2">5.1</span></div>
<div class="row B s" style="top:479.6px"><span class="l" style="letter-spacing:-0.02px">Canada</span><span class="n n0">–5.4</span><span class="n n1">5.0</span><span class="n n2">4.7</span></div>
<div class="row B w" style="top:506.7px"><span class="l" style="letter-spacing:-0.057px">Other Advanced Economies</span><span class="n n0">–2.1</span><span class="n n1">4.4</span><span class="n n2">3.4</span></div>
<div class="row b" style="top:533.8px"><span class="l" style="transform:scaleX(1.046);transform-origin:0 0">Emerging Market and Developing Economies</span><span class="n n0">–2.2</span><span class="n n1">6.7</span><span class="n n2">5.0</span></div>
<div class="row B s" style="top:561.0px"><span class="l" style="letter-spacing:-0.019px">Emerging and Developing Asia</span><span class="n n0">–1.0</span><span class="n n1">8.6</span><span class="n n2">6.0</span></div>
<div class="row r w" style="top:588.1px"><span class="l" style="letter-spacing:0.4px">China</span><span class="n n0">2.3</span><span class="n n1">8.4</span><span class="n n2">5.6</span></div>
<div class="row r s" style="top:615.2px"><span class="l" style="letter-spacing:0.3px">India</span><span class="n n0">–8.0</span><span class="n n1">12.5</span><span class="n n2">6.9</span></div>
<div class="row r w" style="top:642.3px"><span class="l" style="letter-spacing:-0.05px">ASEAN-5</span><span class="n n0">–3.4</span><span class="n n1">4.9</span><span class="n n2">6.1</span></div>
<div class="row B s" style="top:669.4px"><span class="l" style="letter-spacing:0.028px">Emerging and Developing Europe</span><span class="n n0">–2.0</span><span class="n n1">4.4</span><span class="n n2">3.9</span></div>
<div class="row r w" style="top:696.6px"><span class="l" style="letter-spacing:-0.56px">Russia</span><span class="n n0">–3.1</span><span class="n n1">3.8</span><span class="n n2">3.8</span></div>
<div class="row B s" style="top:723.7px"><span class="l" style="letter-spacing:-0.067px">Latin America and the Caribbean</span><span class="n n0">–7.0</span><span class="n n1">4.6</span><span class="n n2">3.1</span></div>
<div class="row r w" style="top:750.8px"><span class="l" style="letter-spacing:0.3px">Brazil</span><span class="n n0">–4.1</span><span class="n n1">3.7</span><span class="n n2">2.6</span></div>
<div class="row r s" style="top:777.9px"><span class="l" style="letter-spacing:0.52px">Mexico</span><span class="n n0">–8.2</span><span class="n n1">5.0</span><span class="n n2">3.0</span></div>
<div class="row B w" style="top:805.0px"><span class="l" style="letter-spacing:-0.078px">Middle East and Central Asia</span><span class="n n0">–2.9</span><span class="n n1">3.7</span><span class="n n2">3.8</span></div>
<div class="row r s" style="top:832.2px"><span class="l" style="letter-spacing:0.118px">Saudi Arabia</span><span class="n n0">–4.1</span><span class="n n1">2.9</span><span class="n n2">4.0</span></div>
<div class="row B w" style="top:859.3px"><span class="l" style="letter-spacing:-0.288px">Sub-Saharan Africa</span><span class="n n0">–1.9</span><span class="n n1">3.4</span><span class="n n2">4.0</span></div>
<div class="row r s" style="top:886.4px"><span class="l" style="letter-spacing:0.4px">Nigeria</span><span class="n n0">–1.8</span><span class="n n1">2.5</span><span class="n n2">2.3</span></div>
<div class="row r w" style="top:913.5px"><span class="l" style="letter-spacing:0.227px">South Africa</span><span class="n n0">–7.0</span><span class="n n1">3.1</span><span class="n n2">2.0</span></div>
<div class="row i w" style="top:940.6px"><span class="l" style="letter-spacing:0.222px">Memorandum</span><span class="n n0"></span><span class="n n1"></span><span class="n n2"></span></div>
<div class="row B s" style="top:967.8px"><span class="l" style="letter-spacing:0.04px">Emerging Market and Middle-Income Economies</span><span class="n n0">–2.4</span><span class="n n1">6.9</span><span class="n n2">5.0</span></div>
<div class="row B w" style="top:994.9px;height:27.1px"><span class="l" style="letter-spacing:-0.037px">Low-Income Developing Countries</span><span class="n n0">0.0</span><span class="n n1">4.3</span><span class="n n2">5.2</span></div>
<div id="src">Source: IMF, <i>World Economic Outlook</i>, April 2021</div>
<div id="note">Note: For India, data and forecasts are presented on a fiscal year basis, with FY 2020/2021<br><span style="letter-spacing:.125px">starting in April 2020. India's growth projections are –7.1 percent in 2020 and 11.3 percent in</span><br><span style="letter-spacing:.08px">2021 based on calendar year.</span></div>
<div id="foot"><span class="a">INTERNATIONAL MONETARY FUND</span><span class="b"><b>IMF</b>.org</span></div>
</body></html>
